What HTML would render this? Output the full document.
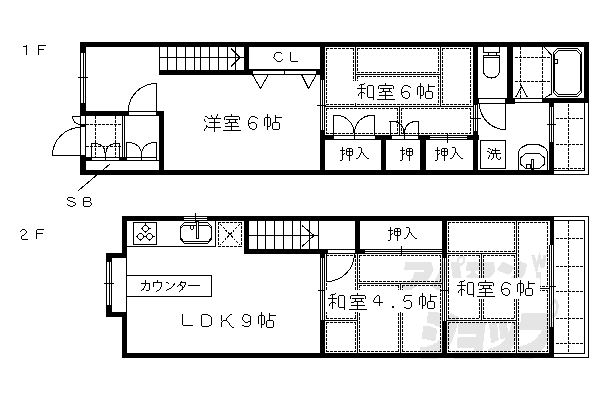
<!DOCTYPE html>
<html><head><meta charset="utf-8"><style>
html,body{margin:0;padding:0;background:#fff;}
svg{display:block;}
</style></head><body>
<svg width="600" height="400" viewBox="0 0 600 400" shape-rendering="crispEdges">
<rect x="23" y="46" width="3" height="1" fill="#000"/>
<rect x="26" y="45" width="1" height="10" fill="#000"/>
<rect x="38" y="45" width="1" height="10" fill="#000"/>
<rect x="38" y="45" width="8" height="1" fill="#000"/>
<rect x="38" y="49" width="6" height="1" fill="#000"/>
<rect x="80" y="42" width="509" height="5" fill="#000"/>
<rect x="80" y="42" width="6" height="11" fill="#000"/>
<rect x="80" y="53" width="1" height="50" fill="#000"/>
<rect x="83" y="53" width="1" height="50" fill="#000"/>
<rect x="85" y="53" width="1" height="50" fill="#000"/>
<rect x="78" y="77" width="10" height="1" fill="#000"/>
<rect x="80" y="103" width="6" height="13" fill="#000"/>
<rect x="80" y="111" width="49" height="5" fill="#000"/>
<rect x="128" y="111" width="29" height="1" fill="#000"/>
<rect x="128" y="115" width="29" height="1" fill="#000"/>
<rect x="128" y="111" width="1" height="5" fill="#000"/>
<rect x="156" y="111" width="1" height="5" fill="#000"/>
<rect x="156" y="111" width="3" height="5" fill="#000"/>
<rect x="159" y="111" width="5" height="64" fill="#000"/>
<rect x="156" y="83" width="1" height="28" fill="#000"/>
<path d="M128.5 110.5 A28 27 0 0 1 156.5 83.5" fill="none" stroke="#000" stroke-width="1" shape-rendering="crispEdges"/>
<rect x="80" y="116" width="1" height="39" fill="#000"/>
<rect x="85" y="116" width="1" height="39" fill="#000"/>
<rect x="80" y="124" width="6" height="3" fill="#000"/>
<rect x="80" y="155" width="6" height="20" fill="#000"/>
<rect x="52" y="155" width="28" height="1" fill="#000"/>
<path d="M52.5 155.5 A28 28 0 0 1 80.5 127.5" fill="none" stroke="#000" stroke-width="1" shape-rendering="crispEdges"/>
<rect x="72" y="116" width="8" height="1" fill="#000"/>
<path d="M72.5 116.5 A8 8 0 0 0 80.5 124.5" fill="none" stroke="#000" stroke-width="1" shape-rendering="crispEdges"/>
<rect x="80" y="170" width="474" height="5" fill="#000"/>
<path d="M86 124h3v1h-3zM90 124h3v1h-3zM94 124h3v1h-3zM98 124h3v1h-3zM102 124h3v1h-3zM106 124h3v1h-3zM110 124h3v1h-3zM114 124h3v1h-3zM118 124h3v1h-3z"/>
<path d="M86 146h3v1h-3zM90 146h3v1h-3zM94 146h3v1h-3zM98 146h3v1h-3zM102 146h3v1h-3zM106 146h3v1h-3zM110 146h3v1h-3zM114 146h3v1h-3zM118 146h3v1h-3z"/>
<path d="M95 116h1v3h-1zM95 120h1v3h-1zM95 124h1v3h-1zM95 128h1v3h-1zM95 132h1v3h-1zM95 136h1v3h-1zM95 140h1v3h-1zM95 144h1v3h-1zM95 148h1v3h-1zM95 152h1v3h-1zM95 156h1v1h-1z"/>
<path d="M115 116h1v3h-1zM115 120h1v3h-1zM115 124h1v3h-1zM115 128h1v3h-1zM115 132h1v3h-1zM115 136h1v3h-1zM115 140h1v3h-1zM115 144h1v3h-1zM115 148h1v3h-1zM115 152h1v3h-1zM115 156h1v1h-1z"/>
<rect x="122" y="116" width="1" height="42" fill="#000"/>
<rect x="124" y="116" width="1" height="42" fill="#000"/>
<rect x="91" y="143" width="1" height="15" fill="#000"/>
<rect x="119" y="143" width="1" height="15" fill="#000"/>
<rect x="91" y="143" width="5" height="1" fill="#000"/>
<rect x="115" y="143" width="5" height="1" fill="#000"/>
<path d="M95.5 143.5 A9.5 9 0 0 1 105 152.5" fill="none" stroke="#000" stroke-width="1" shape-rendering="crispEdges"/>
<path d="M115.5 143.5 A9.5 9 0 0 0 106 152.5" fill="none" stroke="#000" stroke-width="1" shape-rendering="crispEdges"/>
<rect x="105" y="152" width="1" height="9" fill="#000"/>
<rect x="85" y="157" width="7" height="4" fill="#000"/>
<rect x="91" y="157" width="15" height="1" fill="#000"/>
<rect x="91" y="160" width="15" height="1" fill="#000"/>
<rect x="91" y="157" width="1" height="4" fill="#000"/>
<rect x="105" y="157" width="1" height="4" fill="#000"/>
<rect x="105" y="157" width="15" height="1" fill="#000"/>
<rect x="105" y="160" width="15" height="1" fill="#000"/>
<rect x="105" y="157" width="1" height="4" fill="#000"/>
<rect x="119" y="157" width="1" height="4" fill="#000"/>
<rect x="119" y="157" width="8" height="4" fill="#000"/>
<rect x="126" y="142" width="1" height="16" fill="#000"/>
<rect x="156" y="142" width="1" height="16" fill="#000"/>
<rect x="126" y="142" width="3" height="1" fill="#000"/>
<rect x="154" y="142" width="3" height="1" fill="#000"/>
<path d="M128.5 142.5 A13 11.5 0 0 1 141.5 154" fill="none" stroke="#000" stroke-width="1" shape-rendering="crispEdges"/>
<path d="M154.5 142.5 A13 11.5 0 0 0 141.5 154" fill="none" stroke="#000" stroke-width="1" shape-rendering="crispEdges"/>
<rect x="141" y="153" width="1" height="8" fill="#000"/>
<rect x="126" y="157" width="16" height="1" fill="#000"/>
<rect x="126" y="160" width="16" height="1" fill="#000"/>
<rect x="126" y="157" width="1" height="4" fill="#000"/>
<rect x="141" y="157" width="1" height="4" fill="#000"/>
<rect x="141" y="157" width="16" height="1" fill="#000"/>
<rect x="141" y="160" width="16" height="1" fill="#000"/>
<rect x="141" y="157" width="1" height="4" fill="#000"/>
<rect x="156" y="157" width="1" height="4" fill="#000"/>
<rect x="85" y="160" width="74" height="1" fill="#000"/>
<path d="M110.5 163.5 L78.5 190.5" fill="none" stroke="#000" stroke-width="1" shape-rendering="crispEdges"/>
<path d="M68 197h5v1h-5zM67 198h1v1h-1zM73 198h2v1h-2zM67 199h1v1h-1zM68 200h2v1h-2zM70 201h3v1h-3zM73 202h2v1h-2zM75 203h1v1h-1zM67 204h1v1h-1zM75 204h1v1h-1zM68 205h2v1h-2zM73 205h2v1h-2zM70 206h3v1h-3z" fill="#000"/>
<path d="M84 197h6v1h-6zM83 198h1v1h-1zM90 198h1v1h-1zM83 199h1v1h-1zM90 199h1v1h-1zM83 200h1v1h-1zM90 200h1v1h-1zM83 201h7v1h-7zM83 202h1v1h-1zM90 202h1v1h-1zM83 203h1v1h-1zM91 203h1v1h-1zM83 204h1v1h-1zM91 204h1v1h-1zM83 205h1v1h-1zM90 205h1v1h-1zM84 206h6v1h-6z" fill="#000"/>
<rect x="159" y="47" width="1" height="23" fill="#000"/>
<rect x="167" y="47" width="1" height="23" fill="#000"/>
<rect x="176" y="47" width="1" height="23" fill="#000"/>
<rect x="185" y="47" width="1" height="23" fill="#000"/>
<rect x="194" y="47" width="1" height="23" fill="#000"/>
<rect x="200" y="47" width="1" height="23" fill="#000"/>
<rect x="209" y="47" width="1" height="23" fill="#000"/>
<rect x="218" y="47" width="1" height="23" fill="#000"/>
<rect x="227" y="47" width="1" height="23" fill="#000"/>
<rect x="235" y="47" width="1" height="23" fill="#000"/>
<rect x="159" y="57" width="85" height="1" fill="#000"/>
<rect x="159" y="70" width="90" height="5" fill="#000"/>
<rect x="244" y="42" width="5" height="33" fill="#000"/>
<path d="M231 48.5 L240 57.5 L231 66.5" fill="none" stroke="#000" stroke-width="1" shape-rendering="crispEdges"/>
<rect x="249" y="69" width="71" height="1" fill="#000"/>
<rect x="244" y="70" width="9" height="5" fill="#000"/>
<rect x="252" y="70" width="33" height="1" fill="#000"/>
<rect x="252" y="74" width="33" height="1" fill="#000"/>
<rect x="252" y="70" width="1" height="5" fill="#000"/>
<rect x="284" y="70" width="1" height="5" fill="#000"/>
<rect x="284" y="70" width="33" height="1" fill="#000"/>
<rect x="284" y="74" width="33" height="1" fill="#000"/>
<rect x="284" y="70" width="1" height="5" fill="#000"/>
<rect x="316" y="70" width="1" height="5" fill="#000"/>
<rect x="316" y="70" width="9" height="5" fill="#000"/>
<path d="M252.5 74.5 L260.5 88.5 L268.5 74.5" fill="none" stroke="#000" stroke-width="1" shape-rendering="crispEdges"/>
<path d="M301.5 74.5 L308.5 88.5 L316.5 74.5" fill="none" stroke="#000" stroke-width="1" shape-rendering="crispEdges"/>
<path d="M276 52h5v1h-5zM275 53h1v1h-1zM281 53h1v1h-1zM274 54h1v1h-1zM274 55h1v1h-1zM274 56h1v1h-1zM273 57h1v1h-1zM274 58h1v1h-1zM275 59h1v1h-1zM282 59h1v1h-1zM276 60h1v1h-1zM281 60h1v1h-1zM277 61h4v1h-4z" fill="#000"/>
<path d="M290 52h1v1h-1zM290 53h1v1h-1zM290 54h1v1h-1zM290 55h1v1h-1zM290 56h1v1h-1zM290 57h1v1h-1zM290 58h1v1h-1zM290 59h1v1h-1zM290 60h1v1h-1zM291 61h7v1h-7z" fill="#000"/>
<rect x="320" y="42" width="5" height="38" fill="#000"/>
<rect x="320" y="80" width="1" height="50" fill="#000"/>
<rect x="322" y="80" width="1" height="50" fill="#000"/>
<rect x="324" y="80" width="1" height="50" fill="#000"/>
<rect x="317" y="105" width="9" height="1" fill="#000"/>
<rect x="320" y="130" width="5" height="45" fill="#000"/>
<path d="M217 114h1v1h-1zM211 115h1v1h-1zM217 115h1v1h-1zM205 116h2v1h-2zM211 116h1v1h-1zM216 116h1v1h-1zM207 117h1v1h-1zM212 117h1v1h-1zM216 117h1v1h-1zM208 118h13v1h-13zM204 119h1v1h-1zM214 119h1v1h-1zM204 120h1v1h-1zM214 120h1v1h-1zM205 121h1v1h-1zM214 121h1v1h-1zM209 122h11v1h-11zM214 123h1v1h-1zM214 124h1v1h-1zM206 125h1v1h-1zM214 125h1v1h-1zM206 126h2v1h-2zM214 126h1v1h-1zM206 127h1v1h-1zM208 127h13v1h-13zM205 128h1v1h-1zM214 128h1v1h-1zM204 129h1v1h-1zM214 129h1v1h-1zM204 130h1v1h-1zM214 130h1v1h-1zM214 131h1v1h-1z" fill="#000"/>
<path d="M231 114h1v1h-1zM231 115h1v1h-1zM225 116h14v1h-14zM224 117h1v1h-1zM239 117h1v1h-1zM224 118h1v1h-1zM239 118h1v1h-1zM224 119h1v1h-1zM226 119h12v1h-12zM239 119h1v1h-1zM229 120h1v1h-1zM235 120h1v1h-1zM229 121h1v1h-1zM235 121h1v1h-1zM228 122h9v1h-9zM225 123h3v1h-3zM231 123h1v1h-1zM237 123h1v1h-1zM231 124h1v1h-1zM231 125h1v1h-1zM225 126h14v1h-14zM231 127h1v1h-1zM231 128h1v1h-1zM231 129h1v1h-1zM223 130h18v1h-18z" fill="#000"/>
<path d="M251 116h4v1h-4zM250 117h1v1h-1zM255 117h2v1h-2zM249 118h1v1h-1zM257 118h1v1h-1zM249 119h1v1h-1zM248 120h1v1h-1zM248 121h1v1h-1zM248 122h1v1h-1zM251 122h4v1h-4zM248 123h3v1h-3zM255 123h1v1h-1zM248 124h1v1h-1zM256 124h1v1h-1zM248 125h1v1h-1zM256 125h1v1h-1zM249 126h1v1h-1zM256 126h1v1h-1zM249 127h1v1h-1zM256 127h1v1h-1zM250 128h2v1h-2zM255 128h1v1h-1zM252 129h3v1h-3z" fill="#000"/>
<path d="M267 114h1v1h-1zM267 115h1v1h-1zM275 115h1v1h-1zM267 116h1v1h-1zM275 116h1v1h-1zM265 117h5v1h-5zM275 117h7v1h-7zM264 118h1v1h-1zM267 118h1v1h-1zM270 118h1v1h-1zM275 118h1v1h-1zM264 119h1v1h-1zM267 119h1v1h-1zM270 119h1v1h-1zM275 119h1v1h-1zM264 120h1v1h-1zM267 120h1v1h-1zM270 120h1v1h-1zM275 120h1v1h-1zM264 121h1v1h-1zM267 121h1v1h-1zM270 121h1v1h-1zM275 121h1v1h-1zM264 122h1v1h-1zM267 122h1v1h-1zM270 122h1v1h-1zM273 122h6v1h-6zM264 123h1v1h-1zM267 123h1v1h-1zM270 123h1v1h-1zM272 123h1v1h-1zM279 123h1v1h-1zM264 124h1v1h-1zM267 124h1v1h-1zM270 124h1v1h-1zM272 124h1v1h-1zM279 124h1v1h-1zM264 125h1v1h-1zM267 125h1v1h-1zM270 125h1v1h-1zM272 125h1v1h-1zM279 125h1v1h-1zM267 126h3v1h-3zM272 126h1v1h-1zM279 126h1v1h-1zM267 127h1v1h-1zM272 127h1v1h-1zM279 127h1v1h-1zM267 128h1v1h-1zM272 128h1v1h-1zM279 128h1v1h-1zM267 129h1v1h-1zM273 129h6v1h-6z" fill="#000"/>
<rect x="355" y="47" width="1" height="60" fill="#000"/>
<rect x="356" y="74" width="84" height="1" fill="#000"/>
<rect x="440" y="47" width="1" height="60" fill="#000"/>
<rect x="325" y="106" width="148" height="1" fill="#000"/>
<rect x="399" y="107" width="1" height="28" fill="#000"/>
<path d="M326 48h3v1h-3zM330 48h3v1h-3zM334 48h3v1h-3zM338 48h3v1h-3zM342 48h3v1h-3zM346 48h3v1h-3zM350 48h3v1h-3z"/>
<path d="M326 104h3v1h-3zM330 104h3v1h-3zM334 104h3v1h-3zM338 104h3v1h-3zM342 104h3v1h-3zM346 104h3v1h-3zM350 104h3v1h-3z"/>
<path d="M326 48h1v3h-1zM326 52h1v3h-1zM326 56h1v3h-1zM326 60h1v3h-1zM326 64h1v3h-1zM326 68h1v3h-1zM326 72h1v3h-1zM326 76h1v3h-1zM326 80h1v3h-1zM326 84h1v3h-1zM326 88h1v3h-1zM326 92h1v3h-1zM326 96h1v3h-1zM326 100h1v3h-1zM326 104h1v1h-1z"/>
<path d="M353 48h1v3h-1zM353 52h1v3h-1zM353 56h1v3h-1zM353 60h1v3h-1zM353 64h1v3h-1zM353 68h1v3h-1zM353 72h1v3h-1zM353 76h1v3h-1zM353 80h1v3h-1zM353 84h1v3h-1zM353 88h1v3h-1zM353 92h1v3h-1zM353 96h1v3h-1zM353 100h1v3h-1zM353 104h1v1h-1z"/>
<path d="M357 48h3v1h-3zM361 48h3v1h-3zM365 48h3v1h-3zM369 48h3v1h-3zM373 48h3v1h-3zM377 48h3v1h-3zM381 48h3v1h-3zM385 48h3v1h-3zM389 48h3v1h-3zM393 48h3v1h-3zM397 48h3v1h-3zM401 48h3v1h-3zM405 48h3v1h-3zM409 48h3v1h-3zM413 48h3v1h-3zM417 48h3v1h-3zM421 48h3v1h-3zM425 48h3v1h-3zM429 48h3v1h-3zM433 48h3v1h-3zM437 48h2v1h-2z"/>
<path d="M357 72h3v1h-3zM361 72h3v1h-3zM365 72h3v1h-3zM369 72h3v1h-3zM373 72h3v1h-3zM377 72h3v1h-3zM381 72h3v1h-3zM385 72h3v1h-3zM389 72h3v1h-3zM393 72h3v1h-3zM397 72h3v1h-3zM401 72h3v1h-3zM405 72h3v1h-3zM409 72h3v1h-3zM413 72h3v1h-3zM417 72h3v1h-3zM421 72h3v1h-3zM425 72h3v1h-3zM429 72h3v1h-3zM433 72h3v1h-3zM437 72h2v1h-2z"/>
<path d="M357 48h1v3h-1zM357 52h1v3h-1zM357 56h1v3h-1zM357 60h1v3h-1zM357 64h1v3h-1zM357 68h1v3h-1zM357 72h1v1h-1z"/>
<path d="M438 48h1v3h-1zM438 52h1v3h-1zM438 56h1v3h-1zM438 60h1v3h-1zM438 64h1v3h-1zM438 68h1v3h-1zM438 72h1v1h-1z"/>
<path d="M357 76h3v1h-3zM361 76h3v1h-3zM365 76h3v1h-3zM369 76h3v1h-3zM373 76h3v1h-3zM377 76h3v1h-3zM381 76h3v1h-3zM385 76h3v1h-3zM389 76h3v1h-3zM393 76h3v1h-3zM397 76h3v1h-3zM401 76h3v1h-3zM405 76h3v1h-3zM409 76h3v1h-3zM413 76h3v1h-3zM417 76h3v1h-3zM421 76h3v1h-3zM425 76h3v1h-3zM429 76h3v1h-3zM433 76h3v1h-3zM437 76h2v1h-2z"/>
<path d="M357 104h3v1h-3zM361 104h3v1h-3zM365 104h3v1h-3zM369 104h3v1h-3zM373 104h3v1h-3zM377 104h3v1h-3zM381 104h3v1h-3zM385 104h3v1h-3zM389 104h3v1h-3zM393 104h3v1h-3zM397 104h3v1h-3zM401 104h3v1h-3zM405 104h3v1h-3zM409 104h3v1h-3zM413 104h3v1h-3zM417 104h3v1h-3zM421 104h3v1h-3zM425 104h3v1h-3zM429 104h3v1h-3zM433 104h3v1h-3zM437 104h2v1h-2z"/>
<path d="M357 76h1v3h-1zM357 80h1v3h-1zM357 84h1v3h-1zM357 88h1v3h-1zM357 92h1v3h-1zM357 96h1v3h-1zM357 100h1v3h-1zM357 104h1v1h-1z"/>
<path d="M438 76h1v3h-1zM438 80h1v3h-1zM438 84h1v3h-1zM438 88h1v3h-1zM438 92h1v3h-1zM438 96h1v3h-1zM438 100h1v3h-1zM438 104h1v1h-1z"/>
<path d="M442 48h3v1h-3zM446 48h3v1h-3zM450 48h3v1h-3zM454 48h3v1h-3zM458 48h3v1h-3zM462 48h3v1h-3zM466 48h3v1h-3zM470 48h1v1h-1z"/>
<path d="M442 104h3v1h-3zM446 104h3v1h-3zM450 104h3v1h-3zM454 104h3v1h-3zM458 104h3v1h-3zM462 104h3v1h-3zM466 104h3v1h-3zM470 104h1v1h-1z"/>
<path d="M442 48h1v3h-1zM442 52h1v3h-1zM442 56h1v3h-1zM442 60h1v3h-1zM442 64h1v3h-1zM442 68h1v3h-1zM442 72h1v3h-1zM442 76h1v3h-1zM442 80h1v3h-1zM442 84h1v3h-1zM442 88h1v3h-1zM442 92h1v3h-1zM442 96h1v3h-1zM442 100h1v3h-1zM442 104h1v1h-1z"/>
<path d="M470 48h1v3h-1zM470 52h1v3h-1zM470 56h1v3h-1zM470 60h1v3h-1zM470 64h1v3h-1zM470 68h1v3h-1zM470 72h1v3h-1zM470 76h1v3h-1zM470 80h1v3h-1zM470 84h1v3h-1zM470 88h1v3h-1zM470 92h1v3h-1zM470 96h1v3h-1zM470 100h1v3h-1zM470 104h1v1h-1z"/>
<path d="M326 108h3v1h-3zM330 108h3v1h-3zM334 108h3v1h-3zM338 108h3v1h-3zM342 108h3v1h-3zM346 108h3v1h-3zM350 108h3v1h-3zM354 108h3v1h-3zM358 108h3v1h-3zM362 108h3v1h-3zM366 108h3v1h-3zM370 108h3v1h-3zM374 108h3v1h-3zM378 108h3v1h-3zM382 108h3v1h-3zM386 108h3v1h-3zM390 108h3v1h-3zM394 108h3v1h-3z"/>
<path d="M326 133h3v1h-3zM330 133h3v1h-3zM334 133h3v1h-3zM338 133h3v1h-3zM342 133h3v1h-3zM346 133h3v1h-3zM350 133h3v1h-3zM354 133h3v1h-3zM358 133h3v1h-3zM362 133h3v1h-3zM366 133h3v1h-3zM370 133h3v1h-3zM374 133h3v1h-3zM378 133h3v1h-3zM382 133h3v1h-3zM386 133h3v1h-3zM390 133h3v1h-3zM394 133h3v1h-3z"/>
<path d="M326 108h1v3h-1zM326 112h1v3h-1zM326 116h1v3h-1zM326 120h1v3h-1zM326 124h1v3h-1zM326 128h1v3h-1zM326 132h1v2h-1z"/>
<path d="M397 108h1v3h-1zM397 112h1v3h-1zM397 116h1v3h-1zM397 120h1v3h-1zM397 124h1v3h-1zM397 128h1v3h-1zM397 132h1v2h-1z"/>
<path d="M401 108h3v1h-3zM405 108h3v1h-3zM409 108h3v1h-3zM413 108h3v1h-3zM417 108h3v1h-3zM421 108h3v1h-3zM425 108h3v1h-3zM429 108h3v1h-3zM433 108h3v1h-3zM437 108h3v1h-3zM441 108h3v1h-3zM445 108h3v1h-3zM449 108h3v1h-3zM453 108h3v1h-3zM457 108h3v1h-3zM461 108h3v1h-3zM465 108h3v1h-3zM469 108h2v1h-2z"/>
<path d="M401 133h3v1h-3zM405 133h3v1h-3zM409 133h3v1h-3zM413 133h3v1h-3zM417 133h3v1h-3zM421 133h3v1h-3zM425 133h3v1h-3zM429 133h3v1h-3zM433 133h3v1h-3zM437 133h3v1h-3zM441 133h3v1h-3zM445 133h3v1h-3zM449 133h3v1h-3zM453 133h3v1h-3zM457 133h3v1h-3zM461 133h3v1h-3zM465 133h3v1h-3zM469 133h2v1h-2z"/>
<path d="M401 108h1v3h-1zM401 112h1v3h-1zM401 116h1v3h-1zM401 120h1v3h-1zM401 124h1v3h-1zM401 128h1v3h-1zM401 132h1v2h-1z"/>
<path d="M470 108h1v3h-1zM470 112h1v3h-1zM470 116h1v3h-1zM470 120h1v3h-1zM470 124h1v3h-1zM470 128h1v3h-1zM470 132h1v2h-1z"/>
<rect x="330" y="81" width="107" height="22" fill="#fff"/>
<path d="M364 83h1v1h-1zM360 84h4v1h-4zM359 85h1v1h-1zM361 85h1v1h-1zM368 85h5v1h-5zM361 86h1v1h-1zM367 86h1v1h-1zM373 86h1v1h-1zM361 87h1v1h-1zM367 87h1v1h-1zM373 87h1v1h-1zM357 88h9v1h-9zM367 88h1v1h-1zM373 88h1v1h-1zM361 89h1v1h-1zM367 89h1v1h-1zM373 89h1v1h-1zM361 90h1v1h-1zM367 90h1v1h-1zM373 90h1v1h-1zM361 91h1v1h-1zM367 91h1v1h-1zM373 91h1v1h-1zM360 92h4v1h-4zM367 92h1v1h-1zM373 92h1v1h-1zM359 93h1v1h-1zM361 93h1v1h-1zM364 93h1v1h-1zM367 93h1v1h-1zM373 93h1v1h-1zM358 94h1v1h-1zM361 94h1v1h-1zM367 94h1v1h-1zM373 94h1v1h-1zM358 95h1v1h-1zM361 95h1v1h-1zM367 95h1v1h-1zM373 95h1v1h-1zM361 96h1v1h-1zM367 96h1v1h-1zM373 96h1v1h-1zM361 97h1v1h-1zM368 97h6v1h-6zM361 98h1v1h-1zM373 98h1v1h-1zM373 99h1v1h-1z" fill="#000"/>
<path d="M385 83h1v1h-1zM385 84h1v1h-1zM379 85h14v1h-14zM378 86h1v1h-1zM393 86h1v1h-1zM378 87h1v1h-1zM393 87h1v1h-1zM378 88h1v1h-1zM380 88h12v1h-12zM393 88h1v1h-1zM383 89h1v1h-1zM389 89h1v1h-1zM383 90h1v1h-1zM389 90h1v1h-1zM382 91h9v1h-9zM379 92h3v1h-3zM385 92h1v1h-1zM391 92h1v1h-1zM385 93h1v1h-1zM385 94h1v1h-1zM379 95h14v1h-14zM385 96h1v1h-1zM385 97h1v1h-1zM385 98h1v1h-1zM377 99h18v1h-18z" fill="#000"/>
<path d="M404 85h4v1h-4zM403 86h1v1h-1zM408 86h2v1h-2zM402 87h1v1h-1zM410 87h1v1h-1zM402 88h1v1h-1zM401 89h1v1h-1zM401 90h1v1h-1zM401 91h1v1h-1zM404 91h4v1h-4zM401 92h3v1h-3zM408 92h1v1h-1zM401 93h1v1h-1zM409 93h1v1h-1zM401 94h1v1h-1zM409 94h1v1h-1zM402 95h1v1h-1zM409 95h1v1h-1zM402 96h1v1h-1zM409 96h1v1h-1zM403 97h2v1h-2zM408 97h1v1h-1zM405 98h3v1h-3z" fill="#000"/>
<path d="M420 83h1v1h-1zM420 84h1v1h-1zM428 84h1v1h-1zM420 85h1v1h-1zM428 85h1v1h-1zM418 86h5v1h-5zM428 86h7v1h-7zM417 87h1v1h-1zM420 87h1v1h-1zM423 87h1v1h-1zM428 87h1v1h-1zM417 88h1v1h-1zM420 88h1v1h-1zM423 88h1v1h-1zM428 88h1v1h-1zM417 89h1v1h-1zM420 89h1v1h-1zM423 89h1v1h-1zM428 89h1v1h-1zM417 90h1v1h-1zM420 90h1v1h-1zM423 90h1v1h-1zM428 90h1v1h-1zM417 91h1v1h-1zM420 91h1v1h-1zM423 91h1v1h-1zM426 91h6v1h-6zM417 92h1v1h-1zM420 92h1v1h-1zM423 92h1v1h-1zM425 92h1v1h-1zM432 92h1v1h-1zM417 93h1v1h-1zM420 93h1v1h-1zM423 93h1v1h-1zM425 93h1v1h-1zM432 93h1v1h-1zM417 94h1v1h-1zM420 94h1v1h-1zM423 94h1v1h-1zM425 94h1v1h-1zM432 94h1v1h-1zM420 95h3v1h-3zM425 95h1v1h-1zM432 95h1v1h-1zM420 96h1v1h-1zM425 96h1v1h-1zM432 96h1v1h-1zM420 97h1v1h-1zM425 97h1v1h-1zM432 97h1v1h-1zM420 98h1v1h-1zM426 98h6v1h-6z" fill="#000"/>
<rect x="473" y="42" width="5" height="63" fill="#000"/>
<rect x="473" y="105" width="1" height="26" fill="#000"/>
<rect x="475" y="105" width="1" height="26" fill="#000"/>
<rect x="477" y="105" width="1" height="26" fill="#000"/>
<rect x="470" y="118" width="11" height="1" fill="#000"/>
<rect x="473" y="131" width="5" height="44" fill="#000"/>
<rect x="320" y="135" width="159" height="5" fill="#000"/>
<rect x="333" y="135" width="22" height="5" fill="#fff"/>
<rect x="333" y="135" width="22" height="1" fill="#000"/>
<rect x="333" y="139" width="22" height="1" fill="#000"/>
<rect x="333" y="135" width="1" height="5" fill="#000"/>
<rect x="354" y="135" width="1" height="5" fill="#000"/>
<rect x="354" y="135" width="22" height="5" fill="#fff"/>
<rect x="354" y="135" width="22" height="1" fill="#000"/>
<rect x="354" y="139" width="22" height="1" fill="#000"/>
<rect x="354" y="135" width="1" height="5" fill="#000"/>
<rect x="375" y="135" width="1" height="5" fill="#000"/>
<rect x="391" y="135" width="14" height="5" fill="#fff"/>
<rect x="391" y="135" width="14" height="1" fill="#000"/>
<rect x="391" y="139" width="14" height="1" fill="#000"/>
<rect x="391" y="135" width="1" height="5" fill="#000"/>
<rect x="404" y="135" width="1" height="5" fill="#000"/>
<rect x="404" y="135" width="15" height="5" fill="#fff"/>
<rect x="404" y="135" width="15" height="1" fill="#000"/>
<rect x="404" y="139" width="15" height="1" fill="#000"/>
<rect x="404" y="135" width="1" height="5" fill="#000"/>
<rect x="418" y="135" width="1" height="5" fill="#000"/>
<rect x="430" y="135" width="37" height="5" fill="#fff"/>
<rect x="430" y="135" width="37" height="1" fill="#000"/>
<rect x="430" y="137" width="37" height="1" fill="#000"/>
<rect x="430" y="139" width="37" height="1" fill="#000"/>
<rect x="447" y="133" width="1" height="10" fill="#000"/>
<rect x="381" y="140" width="5" height="31" fill="#000"/>
<rect x="420" y="140" width="6" height="31" fill="#000"/>
<rect x="333" y="115" width="1" height="20" fill="#000"/>
<rect x="374" y="115" width="1" height="20" fill="#000"/>
<rect x="333" y="115" width="4" height="1" fill="#000"/>
<rect x="371" y="115" width="4" height="1" fill="#000"/>
<path d="M336.5 115.5 A17.5 17.5 0 0 1 354 133" fill="none" stroke="#000" stroke-width="1" shape-rendering="crispEdges"/>
<path d="M371.5 115.5 A17 17.5 0 0 0 354.5 133" fill="none" stroke="#000" stroke-width="1" shape-rendering="crispEdges"/>
<rect x="354" y="131" width="1" height="5" fill="#000"/>
<rect x="390" y="121" width="1" height="14" fill="#000"/>
<rect x="418" y="121" width="1" height="14" fill="#000"/>
<rect x="389" y="121" width="5" height="1" fill="#000"/>
<rect x="415" y="121" width="4" height="1" fill="#000"/>
<path d="M393.5 121.5 A10.5 11 0 0 1 404 132.5" fill="none" stroke="#000" stroke-width="1" shape-rendering="crispEdges"/>
<path d="M415.5 121.5 A11 11 0 0 0 404.5 132.5" fill="none" stroke="#000" stroke-width="1" shape-rendering="crispEdges"/>
<rect x="404" y="131" width="1" height="5" fill="#000"/>
<path d="M342 147h1v1h-1zM342 148h1v1h-1zM347 148h5v1h-5zM342 149h1v1h-1zM346 149h1v1h-1zM349 149h1v1h-1zM352 149h1v1h-1zM340 150h5v1h-5zM346 150h1v1h-1zM349 150h1v1h-1zM352 150h1v1h-1zM342 151h1v1h-1zM346 151h7v1h-7zM342 152h1v1h-1zM346 152h1v1h-1zM349 152h1v1h-1zM352 152h1v1h-1zM342 153h1v1h-1zM344 153h1v1h-1zM346 153h1v1h-1zM349 153h1v1h-1zM352 153h1v1h-1zM342 154h2v1h-2zM346 154h1v1h-1zM349 154h1v1h-1zM352 154h1v1h-1zM342 155h1v1h-1zM347 155h5v1h-5zM342 156h1v1h-1zM349 156h1v1h-1zM342 157h1v1h-1zM349 157h1v1h-1zM342 158h1v1h-1zM349 158h1v1h-1zM342 159h1v1h-1zM349 159h1v1h-1zM340 160h2v1h-2zM349 160h1v1h-1z" fill="#000"/>
<path d="M358 147h3v1h-3zM361 148h1v1h-1zM361 149h1v1h-1zM361 150h1v1h-1zM361 151h1v1h-1zM361 152h2v1h-2zM360 153h1v1h-1zM363 153h1v1h-1zM360 154h1v1h-1zM363 154h1v1h-1zM359 155h1v1h-1zM364 155h1v1h-1zM359 156h1v1h-1zM365 156h1v1h-1zM358 157h1v1h-1zM366 157h1v1h-1zM356 158h2v1h-2zM367 158h2v1h-2z" fill="#000"/>
<path d="M402 147h1v1h-1zM402 148h1v1h-1zM407 148h5v1h-5zM402 149h1v1h-1zM406 149h1v1h-1zM409 149h1v1h-1zM412 149h1v1h-1zM400 150h5v1h-5zM406 150h1v1h-1zM409 150h1v1h-1zM412 150h1v1h-1zM402 151h1v1h-1zM406 151h7v1h-7zM402 152h1v1h-1zM406 152h1v1h-1zM409 152h1v1h-1zM412 152h1v1h-1zM402 153h1v1h-1zM404 153h1v1h-1zM406 153h1v1h-1zM409 153h1v1h-1zM412 153h1v1h-1zM402 154h2v1h-2zM406 154h1v1h-1zM409 154h1v1h-1zM412 154h1v1h-1zM402 155h1v1h-1zM407 155h5v1h-5zM402 156h1v1h-1zM409 156h1v1h-1zM402 157h1v1h-1zM409 157h1v1h-1zM402 158h1v1h-1zM409 158h1v1h-1zM402 159h1v1h-1zM409 159h1v1h-1zM400 160h2v1h-2zM409 160h1v1h-1z" fill="#000"/>
<path d="M437 147h1v1h-1zM437 148h1v1h-1zM442 148h5v1h-5zM437 149h1v1h-1zM441 149h1v1h-1zM444 149h1v1h-1zM447 149h1v1h-1zM435 150h5v1h-5zM441 150h1v1h-1zM444 150h1v1h-1zM447 150h1v1h-1zM437 151h1v1h-1zM441 151h7v1h-7zM437 152h1v1h-1zM441 152h1v1h-1zM444 152h1v1h-1zM447 152h1v1h-1zM437 153h1v1h-1zM439 153h1v1h-1zM441 153h1v1h-1zM444 153h1v1h-1zM447 153h1v1h-1zM437 154h2v1h-2zM441 154h1v1h-1zM444 154h1v1h-1zM447 154h1v1h-1zM437 155h1v1h-1zM442 155h5v1h-5zM437 156h1v1h-1zM444 156h1v1h-1zM437 157h1v1h-1zM444 157h1v1h-1zM437 158h1v1h-1zM444 158h1v1h-1zM437 159h1v1h-1zM444 159h1v1h-1zM435 160h2v1h-2zM444 160h1v1h-1z" fill="#000"/>
<path d="M452 147h3v1h-3zM455 148h1v1h-1zM455 149h1v1h-1zM455 150h1v1h-1zM455 151h1v1h-1zM455 152h2v1h-2zM454 153h1v1h-1zM457 153h1v1h-1zM454 154h1v1h-1zM457 154h1v1h-1zM453 155h1v1h-1zM458 155h1v1h-1zM453 156h1v1h-1zM459 156h1v1h-1zM452 157h1v1h-1zM460 157h1v1h-1zM450 158h2v1h-2zM461 158h2v1h-2z" fill="#000"/>
<rect x="507" y="42" width="6" height="62" fill="#000"/>
<rect x="483" y="46" width="17" height="1" fill="#000"/>
<rect x="483" y="52" width="17" height="1" fill="#000"/>
<rect x="483" y="46" width="1" height="7" fill="#000"/>
<rect x="499" y="46" width="1" height="7" fill="#000"/>
<rect x="488" y="52" width="9" height="1" fill="#000"/>
<rect x="488" y="55" width="9" height="1" fill="#000"/>
<rect x="488" y="52" width="1" height="4" fill="#000"/>
<rect x="496" y="52" width="1" height="4" fill="#000"/>
<rect x="483" y="55" width="17" height="1" fill="#000"/>
<rect x="483" y="57" width="17" height="1" fill="#000"/>
<path d="M483.5 55.5 V71 A8 7 0 0 0 499.5 71 V55.5" fill="none" stroke="#000" stroke-width="1.1" shape-rendering="crispEdges"/>
<rect x="473" y="98" width="5" height="6" fill="#000"/>
<rect x="478" y="98" width="28" height="1" fill="#000"/>
<rect x="478" y="103" width="28" height="1" fill="#000"/>
<rect x="478" y="98" width="1" height="6" fill="#000"/>
<rect x="505" y="98" width="1" height="6" fill="#000"/>
<rect x="505" y="98" width="10" height="6" fill="#000"/>
<rect x="505" y="104" width="1" height="26" fill="#000"/>
<path d="M479.5 103.5 A26 26 0 0 0 505.5 129.5" fill="none" stroke="#000" stroke-width="1" shape-rendering="crispEdges"/>
<rect x="584" y="42" width="5" height="61" fill="#000"/>
<rect x="512" y="98" width="77" height="5" fill="#000"/>
<rect x="514" y="98" width="29" height="5" fill="#fff"/>
<rect x="514" y="98" width="29" height="1" fill="#000"/>
<rect x="514" y="102" width="29" height="1" fill="#000"/>
<rect x="514" y="98" width="1" height="5" fill="#000"/>
<rect x="542" y="98" width="1" height="5" fill="#000"/>
<path d="M520 47h1v3h-1zM520 51h1v3h-1zM520 55h1v3h-1zM520 59h1v3h-1zM520 63h1v3h-1zM520 67h1v3h-1zM520 71h1v3h-1zM520 75h1v3h-1zM520 79h1v3h-1zM520 83h1v3h-1zM520 87h1v3h-1zM520 91h1v3h-1zM520 95h1v3h-1z"/>
<path d="M542 47h1v3h-1zM542 51h1v3h-1zM542 55h1v3h-1zM542 59h1v3h-1zM542 63h1v3h-1zM542 67h1v3h-1zM542 71h1v3h-1zM542 75h1v3h-1zM542 79h1v3h-1zM542 83h1v3h-1zM542 87h1v3h-1zM542 91h1v3h-1zM542 95h1v3h-1z"/>
<path d="M515 57h3v1h-3zM519 57h3v1h-3zM523 57h3v1h-3zM527 57h3v1h-3zM531 57h3v1h-3zM535 57h3v1h-3zM539 57h3v1h-3zM543 57h3v1h-3zM547 57h3v1h-3z"/>
<path d="M515 81h3v1h-3zM519 81h3v1h-3zM523 81h3v1h-3zM527 81h3v1h-3zM531 81h3v1h-3zM535 81h3v1h-3zM539 81h3v1h-3zM543 81h3v1h-3zM547 81h3v1h-3z"/>
<path d="M557.5 48.5 H577.5 L581.5 52.5 V92.5 L577.5 96.5 H557.5 L553.5 92.5 V52.5 Z" fill="none" stroke="#000" stroke-width="1" shape-rendering="crispEdges"/>
<path d="M554.5 54.5 L558.5 50.5 H576.5 L580.5 54.5 V90.5 L576.5 94.5 H558.5 L554.5 90.5 Z" fill="none" stroke="#000" stroke-width="1" shape-rendering="crispEdges"/>
<path d="M543.5 46.5 L551.5 55 V94 L545 97.5" fill="none" stroke="#000" stroke-width="1" shape-rendering="crispEdges"/>
<path d="M554.5 59.5 H556 A2 2 0 0 1 556 63.5 H554.5" fill="none" stroke="#000" stroke-width="1" shape-rendering="crispEdges"/>
<path d="M515.5 97.5 L521.5 86.5 L527.5 97.5" fill="none" stroke="#000" stroke-width="1" shape-rendering="crispEdges"/>
<rect x="549" y="103" width="5" height="4" fill="#000"/>
<rect x="549" y="107" width="1" height="35" fill="#000"/>
<rect x="551" y="107" width="1" height="35" fill="#000"/>
<rect x="553" y="107" width="1" height="35" fill="#000"/>
<rect x="547" y="124" width="9" height="1" fill="#000"/>
<rect x="549" y="142" width="5" height="33" fill="#000"/>
<rect x="480" y="140" width="26" height="1" fill="#000"/>
<rect x="480" y="168" width="26" height="1" fill="#000"/>
<rect x="480" y="140" width="1" height="29" fill="#000"/>
<rect x="505" y="140" width="1" height="29" fill="#000"/>
<path d="M488 148h2v1h-2zM495 148h1v1h-1zM490 149h1v1h-1zM492 149h1v1h-1zM495 149h1v1h-1zM492 150h8v1h-8zM487 151h2v1h-2zM491 151h1v1h-1zM495 151h1v1h-1zM489 152h1v1h-1zM491 152h1v1h-1zM495 152h1v1h-1zM490 153h11v1h-11zM493 154h1v1h-1zM496 154h1v1h-1zM489 155h1v1h-1zM493 155h1v1h-1zM496 155h1v1h-1zM489 156h1v1h-1zM493 156h1v1h-1zM496 156h1v1h-1zM488 157h1v1h-1zM493 157h1v1h-1zM496 157h1v1h-1zM500 157h1v1h-1zM488 158h1v1h-1zM492 158h1v1h-1zM497 158h1v1h-1zM500 158h1v1h-1zM491 159h1v1h-1zM498 159h2v1h-2z" fill="#000"/>
<path d="M518.5 169.5 V153.5 A14.5 9.5 0 0 1 547.5 153.5 V169.5" fill="none" stroke="#000" stroke-width="1" shape-rendering="crispEdges"/>
<path d="M525.5 153.5 H539.5 L544.5 158 V164 L539.5 168.5 H525.5 L520.5 164 V158 Z" fill="none" stroke="#000" stroke-width="1" shape-rendering="crispEdges"/>
<rect x="531" y="159" width="3" height="1" fill="#000"/>
<rect x="531" y="169" width="3" height="1" fill="#000"/>
<rect x="531" y="159" width="1" height="11" fill="#000"/>
<rect x="533" y="159" width="1" height="11" fill="#000"/>
<path d="M526.5 168.5 V166 A2 2 0 0 1 530.5 166 V168.5" fill="none" stroke="#000" stroke-width="1" shape-rendering="crispEdges"/>
<rect x="584" y="103" width="1" height="68" fill="#000"/>
<rect x="588" y="103" width="1" height="72" fill="#000"/>
<rect x="554" y="170" width="31" height="1" fill="#000"/>
<rect x="554" y="174" width="35" height="1" fill="#000"/>
<path d="M556 118h3v1h-3zM560 118h3v1h-3zM564 118h3v1h-3zM568 118h3v1h-3zM572 118h3v1h-3zM576 118h3v1h-3zM580 118h3v1h-3z"/>
<path d="M556 144h3v1h-3zM560 144h3v1h-3zM564 144h3v1h-3zM568 144h3v1h-3zM572 144h3v1h-3zM576 144h3v1h-3zM580 144h3v1h-3z"/>
<path d="M554 168h3v1h-3zM558 168h3v1h-3zM562 168h3v1h-3zM566 168h3v1h-3zM570 168h3v1h-3zM574 168h3v1h-3zM578 168h3v1h-3zM582 168h2v1h-2z"/>
<path d="M568 104h1v3h-1zM568 108h1v3h-1zM568 112h1v3h-1zM568 116h1v3h-1zM568 120h1v3h-1zM568 124h1v3h-1zM568 128h1v3h-1zM568 132h1v3h-1zM568 136h1v3h-1zM568 140h1v3h-1zM568 144h1v3h-1zM568 148h1v3h-1zM568 152h1v3h-1zM568 156h1v3h-1zM568 160h1v3h-1zM568 164h1v3h-1zM568 168h1v3h-1z"/>
<path d="M461 255h1v1h-1zM459 256h5v1h-5zM458 257h7v1h-7zM458 258h2v1h-2zM463 258h2v1h-2zM457 259h2v1h-2zM463 259h2v1h-2zM457 260h2v1h-2zM463 260h2v1h-2zM457 261h2v1h-2zM463 261h2v1h-2zM520 261h1v1h-1zM405 262h26v1h-26zM441 262h8v1h-8zM451 262h8v1h-8zM462 262h3v1h-3zM467 262h27v1h-27zM502 262h3v1h-3zM519 262h4v1h-4zM405 263h27v1h-27zM441 263h8v1h-8zM451 263h13v1h-13zM467 263h27v1h-27zM501 263h6v1h-6zM519 263h7v1h-7zM405 264h27v1h-27zM440 264h9v1h-9zM451 264h12v1h-12zM467 264h27v1h-27zM501 264h8v1h-8zM519 264h8v1h-8zM405 265h27v1h-27zM440 265h8v1h-8zM451 265h11v1h-11zM467 265h27v1h-27zM500 265h11v1h-11zM518 265h9v1h-9zM405 266h28v1h-28zM440 266h8v1h-8zM451 266h9v1h-9zM466 266h29v1h-29zM499 266h14v1h-14zM518 266h9v1h-9zM404 267h29v1h-29zM440 267h8v1h-8zM451 267h9v1h-9zM466 267h29v1h-29zM498 267h16v1h-16zM518 267h8v1h-8zM404 268h29v1h-29zM440 268h8v1h-8zM451 268h9v1h-9zM466 268h29v1h-29zM498 268h16v1h-16zM517 268h9v1h-9zM404 269h30v1h-30zM439 269h9v1h-9zM452 269h8v1h-8zM466 269h29v1h-29zM497 269h16v1h-16zM517 269h9v1h-9zM424 270h9v1h-9zM439 270h8v1h-8zM452 270h8v1h-8zM466 270h29v1h-29zM498 270h14v1h-14zM517 270h9v1h-9zM424 271h9v1h-9zM439 271h8v1h-8zM452 271h9v1h-9zM471 271h4v1h-4zM484 271h11v1h-11zM500 271h12v1h-12zM516 271h9v1h-9zM414 272h18v1h-18zM439 272h8v1h-8zM452 272h9v1h-9zM471 272h4v1h-4zM484 272h10v1h-10zM503 272h8v1h-8zM516 272h9v1h-9zM414 273h18v1h-18zM438 273h9v1h-9zM452 273h9v1h-9zM470 273h6v1h-6zM483 273h11v1h-11zM505 273h5v1h-5zM515 273h10v1h-10zM414 274h17v1h-17zM438 274h8v1h-8zM452 274h9v1h-9zM469 274h8v1h-8zM482 274h11v1h-11zM508 274h1v1h-1zM514 274h10v1h-10zM413 275h18v1h-18zM437 275h9v1h-9zM452 275h9v1h-9zM467 275h11v1h-11zM481 275h11v1h-11zM514 275h10v1h-10zM413 276h17v1h-17zM437 276h9v1h-9zM453 276h8v1h-8zM466 276h13v1h-13zM480 276h11v1h-11zM513 276h10v1h-10zM413 277h17v1h-17zM436 277h9v1h-9zM453 277h9v1h-9zM467 277h23v1h-23zM511 277h11v1h-11zM412 278h17v1h-17zM436 278h9v1h-9zM453 278h9v1h-9zM468 278h21v1h-21zM510 278h12v1h-12zM411 279h17v1h-17zM435 279h10v1h-10zM453 279h9v1h-9zM469 279h19v1h-19zM508 279h13v1h-13zM410 280h10v1h-10zM421 280h7v1h-7zM435 280h9v1h-9zM453 280h9v1h-9zM470 280h17v1h-17zM506 280h15v1h-15zM405 281h14v1h-14zM422 281h5v1h-5zM434 281h10v1h-10zM453 281h9v1h-9zM471 281h15v1h-15zM498 281h22v1h-22zM402 282h17v1h-17zM422 282h4v1h-4zM433 282h10v1h-10zM453 282h9v1h-9zM471 282h15v1h-15zM496 282h23v1h-23zM402 283h16v1h-16zM423 283h2v1h-2zM433 283h10v1h-10zM453 283h9v1h-9zM472 283h13v1h-13zM496 283h22v1h-22zM403 284h15v1h-15zM432 284h10v1h-10zM453 284h9v1h-9zM473 284h12v1h-12zM496 284h21v1h-21zM403 285h14v1h-14zM431 285h11v1h-11zM454 285h9v1h-9zM474 285h12v1h-12zM496 285h20v1h-20zM403 286h13v1h-13zM432 286h9v1h-9zM454 286h9v1h-9zM474 286h13v1h-13zM497 286h17v1h-17zM403 287h12v1h-12zM433 287h8v1h-8zM454 287h8v1h-8zM475 287h12v1h-12zM497 287h16v1h-16zM403 288h10v1h-10zM435 288h5v1h-5zM454 288h6v1h-6zM476 288h11v1h-11zM497 288h14v1h-14zM404 289h8v1h-8zM436 289h4v1h-4zM454 289h4v1h-4zM477 289h8v1h-8zM497 289h11v1h-11zM404 290h6v1h-6zM437 290h2v1h-2zM454 290h3v1h-3zM477 290h6v1h-6zM497 290h9v1h-9zM404 291h3v1h-3zM478 291h3v1h-3zM497 291h5v1h-5zM479 292h1v1h-1z" fill="#e5e5e5"/>
<path d="M554 299h2v1h-2zM553 300h4v1h-4zM552 301h6v1h-6zM551 302h7v1h-7zM551 303h3v1h-3zM555 303h3v1h-3zM550 304h3v1h-3zM556 304h3v1h-3zM550 305h2v1h-2zM556 305h3v1h-3zM550 306h2v1h-2zM556 306h3v1h-3zM549 307h3v1h-3zM556 307h3v1h-3zM549 308h2v1h-2zM556 308h2v1h-2zM430 309h1v1h-1zM549 309h2v1h-2zM556 309h2v1h-2zM429 310h4v1h-4zM549 310h2v1h-2zM556 310h2v1h-2zM429 311h7v1h-7zM549 311h3v1h-3zM555 311h3v1h-3zM428 312h10v1h-10zM549 312h3v1h-3zM555 312h3v1h-3zM428 313h12v1h-12zM450 313h2v1h-2zM522 313h35v1h-35zM428 314h13v1h-13zM450 314h4v1h-4zM521 314h36v1h-36zM428 315h14v1h-14zM449 315h6v1h-6zM521 315h35v1h-35zM427 316h15v1h-15zM449 316h9v1h-9zM521 316h34v1h-34zM427 317h15v1h-15zM449 317h10v1h-10zM521 317h33v1h-33zM427 318h15v1h-15zM449 318h10v1h-10zM521 318h31v1h-31zM427 319h15v1h-15zM448 319h10v1h-10zM521 319h31v1h-31zM427 320h15v1h-15zM448 320h10v1h-10zM503 320h4v1h-4zM521 320h31v1h-31zM427 321h14v1h-14zM448 321h10v1h-10zM499 321h8v1h-8zM512 321h1v1h-1zM521 321h31v1h-31zM427 322h14v1h-14zM448 322h10v1h-10zM459 322h27v1h-27zM493 322h4v1h-4zM499 322h8v1h-8zM512 322h4v1h-4zM520 322h33v1h-33zM430 323h11v1h-11zM447 323h11v1h-11zM459 323h27v1h-27zM491 323h6v1h-6zM499 323h8v1h-8zM511 323h6v1h-6zM520 323h33v1h-33zM434 324h7v1h-7zM447 324h10v1h-10zM458 324h28v1h-28zM489 324h8v1h-8zM499 324h8v1h-8zM511 324h42v1h-42zM435 325h5v1h-5zM447 325h10v1h-10zM458 325h27v1h-27zM489 325h8v1h-8zM499 325h8v1h-8zM511 325h42v1h-42zM423 326h8v1h-8zM438 326h2v1h-2zM446 326h11v1h-11zM458 326h27v1h-27zM489 326h8v1h-8zM499 326h8v1h-8zM510 326h43v1h-43zM423 327h10v1h-10zM446 327h11v1h-11zM458 327h27v1h-27zM489 327h9v1h-9zM499 327h8v1h-8zM510 327h43v1h-43zM423 328h13v1h-13zM446 328h10v1h-10zM458 328h27v1h-27zM489 328h9v1h-9zM499 328h9v1h-9zM510 328h43v1h-43zM423 329h14v1h-14zM446 329h10v1h-10zM458 329h27v1h-27zM490 329h8v1h-8zM499 329h9v1h-9zM510 329h43v1h-43zM423 330h14v1h-14zM445 330h11v1h-11zM458 330h27v1h-27zM490 330h8v1h-8zM500 330h8v1h-8zM509 330h10v1h-10zM542 330h10v1h-10zM423 331h14v1h-14zM445 331h11v1h-11zM458 331h27v1h-27zM490 331h8v1h-8zM500 331h8v1h-8zM509 331h10v1h-10zM541 331h11v1h-11zM422 332h15v1h-15zM444 332h11v1h-11zM458 332h27v1h-27zM490 332h8v1h-8zM500 332h19v1h-19zM541 332h10v1h-10zM422 333h15v1h-15zM444 333h11v1h-11zM458 333h26v1h-26zM490 333h8v1h-8zM500 333h18v1h-18zM540 333h11v1h-11zM422 334h14v1h-14zM443 334h11v1h-11zM476 334h8v1h-8zM490 334h8v1h-8zM500 334h18v1h-18zM539 334h12v1h-12zM422 335h14v1h-14zM443 335h11v1h-11zM476 335h8v1h-8zM490 335h8v1h-8zM500 335h17v1h-17zM538 335h12v1h-12zM422 336h14v1h-14zM442 336h12v1h-12zM476 336h8v1h-8zM490 336h8v1h-8zM500 336h17v1h-17zM538 336h12v1h-12zM422 337h14v1h-14zM441 337h12v1h-12zM458 337h26v1h-26zM490 337h8v1h-8zM500 337h17v1h-17zM537 337h12v1h-12zM422 338h14v1h-14zM441 338h12v1h-12zM457 338h27v1h-27zM491 338h8v1h-8zM500 338h4v1h-4zM505 338h12v1h-12zM536 338h13v1h-13zM427 339h9v1h-9zM440 339h13v1h-13zM457 339h27v1h-27zM491 339h8v1h-8zM505 339h11v1h-11zM535 339h13v1h-13zM431 340h4v1h-4zM439 340h13v1h-13zM457 340h27v1h-27zM491 340h7v1h-7zM504 340h12v1h-12zM534 340h14v1h-14zM437 341h15v1h-15zM457 341h27v1h-27zM491 341h4v1h-4zM503 341h12v1h-12zM532 341h15v1h-15zM437 342h14v1h-14zM457 342h26v1h-26zM491 342h3v1h-3zM502 342h13v1h-13zM531 342h16v1h-16zM434 343h17v1h-17zM457 343h26v1h-26zM501 343h13v1h-13zM528 343h18v1h-18zM433 344h17v1h-17zM457 344h26v1h-26zM500 344h14v1h-14zM527 344h19v1h-19zM430 345h20v1h-20zM457 345h26v1h-26zM498 345h15v1h-15zM523 345h22v1h-22zM427 346h22v1h-22zM457 346h26v1h-26zM496 346h17v1h-17zM520 346h25v1h-25zM420 347h28v1h-28zM457 347h26v1h-26zM493 347h19v1h-19zM518 347h26v1h-26zM420 348h28v1h-28zM474 348h9v1h-9zM490 348h22v1h-22zM518 348h25v1h-25zM420 349h27v1h-27zM474 349h9v1h-9zM488 349h23v1h-23zM518 349h24v1h-24zM420 350h26v1h-26zM456 350h2v1h-2zM474 350h8v1h-8zM488 350h22v1h-22zM518 350h24v1h-24zM420 351h25v1h-25zM454 351h28v1h-28zM489 351h20v1h-20zM518 351h23v1h-23zM421 352h24v1h-24zM454 352h28v1h-28zM489 352h20v1h-20zM519 352h21v1h-21zM421 353h23v1h-23zM454 353h28v1h-28zM489 353h19v1h-19zM519 353h20v1h-20zM421 354h22v1h-22zM454 354h28v1h-28zM490 354h17v1h-17zM519 354h19v1h-19zM421 355h21v1h-21zM454 355h28v1h-28zM490 355h16v1h-16zM519 355h18v1h-18zM421 356h19v1h-19zM454 356h28v1h-28zM490 356h15v1h-15zM520 356h16v1h-16zM421 357h18v1h-18zM454 357h28v1h-28zM490 357h14v1h-14zM520 357h15v1h-15zM421 358h17v1h-17zM454 358h27v1h-27zM490 358h12v1h-12zM520 358h13v1h-13z" fill="#e5e5e5"/>
<path d="M533 255 L536.5 268 L539.5 258 L542.5 268 L545 255" fill="none" stroke="#e5e5e5" stroke-width="3.5" shape-rendering="crispEdges"/>
<path d="M538.5 272 V289" fill="none" stroke="#e5e5e5" stroke-width="4.5" shape-rendering="crispEdges"/>
<path d="M22 229h3v1h-3zM21 230h1v1h-1zM25 230h1v1h-1zM20 231h1v1h-1zM26 231h1v1h-1zM26 232h1v1h-1zM25 233h1v1h-1zM24 234h1v1h-1zM22 235h2v1h-2zM21 236h1v1h-1zM21 237h1v1h-1zM21 238h1v1h-1zM22 239h6v1h-6z" fill="#000"/>
<path d="M37 229h7v1h-7zM36 230h1v1h-1zM36 231h1v1h-1zM36 232h1v1h-1zM36 233h7v1h-7zM36 234h1v1h-1zM36 235h1v1h-1zM36 236h1v1h-1zM36 237h1v1h-1zM36 238h1v1h-1z" fill="#000"/>
<rect x="122" y="216" width="432" height="5" fill="#000"/>
<rect x="122" y="216" width="5" height="42" fill="#000"/>
<rect x="106" y="253" width="21" height="5" fill="#000"/>
<rect x="106" y="253" width="6" height="9" fill="#000"/>
<rect x="106" y="262" width="1" height="43" fill="#000"/>
<rect x="109" y="262" width="1" height="43" fill="#000"/>
<rect x="111" y="262" width="1" height="43" fill="#000"/>
<rect x="104" y="283" width="10" height="1" fill="#000"/>
<rect x="106" y="305" width="6" height="12" fill="#000"/>
<rect x="106" y="312" width="21" height="5" fill="#000"/>
<rect x="126" y="258" width="1" height="54" fill="#000"/>
<rect x="122" y="312" width="5" height="46" fill="#000"/>
<rect x="122" y="353" width="432" height="5" fill="#000"/>
<rect x="127" y="246" width="89" height="1" fill="#000"/>
<rect x="215" y="221" width="1" height="26" fill="#000"/>
<rect x="133" y="222" width="24" height="1" fill="#000"/>
<rect x="133" y="244" width="24" height="1" fill="#000"/>
<rect x="133" y="222" width="1" height="23" fill="#000"/>
<rect x="156" y="222" width="1" height="23" fill="#000"/>
<path d="M144.5 225.5 H146.5 L148.5 227.5 V229.5 L146.5 231.5 H144.5 L142.5 229.5 V227.5 Z" fill="none" stroke="#000" stroke-width="1" shape-rendering="crispEdges"/>
<path d="M140.5 228.5 H142.5M148.5 228.5 H150.5M145.5 222.5 V225.5M145.5 231.5 V232.5" fill="none" stroke="#000" stroke-width="1" shape-rendering="crispEdges"/>
<path d="M139.5 233.5 H141.5 L143.5 235.5 V237.5 L141.5 239.5 H139.5 L137.5 237.5 V235.5 Z" fill="none" stroke="#000" stroke-width="1" shape-rendering="crispEdges"/>
<path d="M135.5 236.5 H137.5M143.5 236.5 H145.0M140.5 232.5 V233.5M140.5 239.5 V240.5" fill="none" stroke="#000" stroke-width="1" shape-rendering="crispEdges"/>
<path d="M148.5 233.5 H150.5 L152.5 235.5 V237.5 L150.5 239.5 H148.5 L146.5 237.5 V235.5 Z" fill="none" stroke="#000" stroke-width="1" shape-rendering="crispEdges"/>
<path d="M145.0 236.5 H146.5M152.5 236.5 H154.5M149.5 232.5 V233.5M149.5 239.5 V240.5" fill="none" stroke="#000" stroke-width="1" shape-rendering="crispEdges"/>
<path d="M184.5 222.5 H207.5 L211.5 226.5 V239.5 L207.5 243.5 H184.5 L180.5 239.5 V226.5 Z" fill="none" stroke="#000" stroke-width="1" shape-rendering="crispEdges"/>
<path d="M181 228 L183.5 225.5 H208.5 L211 228" fill="none" stroke="#000" stroke-width="1" shape-rendering="crispEdges"/>
<path d="M181 238 L183.5 241.5 H208.5 L211 238" fill="none" stroke="#000" stroke-width="1" shape-rendering="crispEdges"/>
<path d="M190.5 225.5 V227.5 Q190.5 229.5 192 229.5 Q193.5 229.5 193.5 227.5 V225.5" fill="none" stroke="#000" stroke-width="1" shape-rendering="crispEdges"/>
<rect x="184" y="217" width="23" height="1" fill="#fff"/>
<rect x="184" y="219" width="23" height="1" fill="#fff"/>
<rect x="195" y="213" width="1" height="10" fill="#000"/>
<rect x="196" y="221" width="3" height="18" fill="#fff"/>
<rect x="196" y="221" width="3" height="1" fill="#000"/>
<rect x="196" y="238" width="3" height="1" fill="#000"/>
<rect x="196" y="221" width="1" height="18" fill="#000"/>
<rect x="198" y="221" width="1" height="18" fill="#000"/>
<path d="M218 222h3v1h-3zM222 222h3v1h-3zM226 222h3v1h-3zM230 222h3v1h-3zM234 222h3v1h-3zM238 222h3v1h-3z"/>
<path d="M218 246h3v1h-3zM222 246h3v1h-3zM226 246h3v1h-3zM230 246h3v1h-3zM234 246h3v1h-3zM238 246h3v1h-3z"/>
<path d="M218 222h1v3h-1zM218 226h1v3h-1zM218 230h1v3h-1zM218 234h1v3h-1zM218 238h1v3h-1zM218 242h1v3h-1zM218 246h1v1h-1z"/>
<path d="M241 222h1v3h-1zM241 226h1v3h-1zM241 230h1v3h-1zM241 234h1v3h-1zM241 238h1v3h-1zM241 242h1v3h-1zM241 246h1v1h-1z"/>
<path d="M220 224 L240 245 M240 224 L220 245" fill="none" stroke="#000" stroke-width="1" shape-rendering="crispEdges" stroke-dasharray="2.5,1.5"/>
<rect x="244" y="221" width="4" height="33" fill="#000"/>
<rect x="248" y="221" width="1" height="28" fill="#000"/>
<rect x="257" y="221" width="1" height="28" fill="#000"/>
<rect x="265" y="221" width="1" height="28" fill="#000"/>
<rect x="274" y="221" width="1" height="28" fill="#000"/>
<rect x="283" y="221" width="1" height="28" fill="#000"/>
<rect x="292" y="221" width="1" height="28" fill="#000"/>
<rect x="300" y="221" width="1" height="28" fill="#000"/>
<rect x="309" y="221" width="1" height="28" fill="#000"/>
<rect x="318" y="221" width="1" height="28" fill="#000"/>
<rect x="248" y="235" width="71" height="1" fill="#000"/>
<rect x="244" y="249" width="83" height="5" fill="#000"/>
<path d="M302 225.5 L314 235.5 L302 246.5" fill="none" stroke="#000" stroke-width="1" shape-rendering="crispEdges"/>
<rect x="327" y="249" width="29" height="1" fill="#000"/>
<rect x="327" y="253" width="29" height="1" fill="#000"/>
<rect x="327" y="249" width="1" height="5" fill="#000"/>
<rect x="355" y="249" width="1" height="5" fill="#000"/>
<rect x="355" y="221" width="5" height="33" fill="#000"/>
<rect x="359" y="249" width="6" height="5" fill="#000"/>
<rect x="365" y="249" width="78" height="5" fill="#fff"/>
<rect x="365" y="249" width="78" height="1" fill="#000"/>
<rect x="365" y="251" width="78" height="1" fill="#000"/>
<rect x="365" y="253" width="78" height="1" fill="#000"/>
<rect x="401" y="246" width="1" height="10" fill="#000"/>
<path d="M390 227h1v1h-1zM390 228h1v1h-1zM395 228h5v1h-5zM390 229h1v1h-1zM394 229h1v1h-1zM397 229h1v1h-1zM400 229h1v1h-1zM388 230h5v1h-5zM394 230h1v1h-1zM397 230h1v1h-1zM400 230h1v1h-1zM390 231h1v1h-1zM394 231h7v1h-7zM390 232h1v1h-1zM394 232h1v1h-1zM397 232h1v1h-1zM400 232h1v1h-1zM390 233h1v1h-1zM392 233h1v1h-1zM394 233h1v1h-1zM397 233h1v1h-1zM400 233h1v1h-1zM390 234h2v1h-2zM394 234h1v1h-1zM397 234h1v1h-1zM400 234h1v1h-1zM390 235h1v1h-1zM395 235h5v1h-5zM390 236h1v1h-1zM397 236h1v1h-1zM390 237h1v1h-1zM397 237h1v1h-1zM390 238h1v1h-1zM397 238h1v1h-1zM390 239h1v1h-1zM397 239h1v1h-1zM388 240h2v1h-2zM397 240h1v1h-1z" fill="#000"/>
<path d="M406 227h3v1h-3zM409 228h1v1h-1zM409 229h1v1h-1zM409 230h1v1h-1zM409 231h1v1h-1zM409 232h2v1h-2zM408 233h1v1h-1zM411 233h1v1h-1zM408 234h1v1h-1zM411 234h1v1h-1zM407 235h1v1h-1zM412 235h1v1h-1zM407 236h1v1h-1zM413 236h1v1h-1zM406 237h1v1h-1zM414 237h1v1h-1zM404 238h2v1h-2zM415 238h2v1h-2z" fill="#000"/>
<rect x="442" y="216" width="5" height="42" fill="#000"/>
<rect x="126" y="275" width="86" height="1" fill="#000"/>
<rect x="126" y="296" width="86" height="1" fill="#000"/>
<rect x="126" y="275" width="1" height="22" fill="#000"/>
<rect x="211" y="275" width="1" height="22" fill="#000"/>
<path d="M145 280h1v1h-1zM157 280h1v1h-1zM145 281h1v1h-1zM157 281h1v1h-1zM181 281h1v1h-1zM145 282h1v1h-1zM153 282h9v1h-9zM166 282h2v1h-2zM180 282h6v1h-6zM141 283h9v1h-9zM153 283h1v1h-1zM161 283h1v1h-1zM168 283h1v1h-1zM174 283h1v1h-1zM180 283h1v1h-1zM185 283h1v1h-1zM145 284h1v1h-1zM149 284h1v1h-1zM153 284h1v1h-1zM161 284h1v1h-1zM173 284h2v1h-2zM179 284h2v1h-2zM185 284h1v1h-1zM145 285h1v1h-1zM149 285h1v1h-1zM153 285h1v1h-1zM161 285h1v1h-1zM173 285h1v1h-1zM178 285h1v1h-1zM180 285h2v1h-2zM184 285h1v1h-1zM188 285h12v1h-12zM144 286h1v1h-1zM149 286h1v1h-1zM153 286h1v1h-1zM161 286h1v1h-1zM172 286h1v1h-1zM177 286h1v1h-1zM182 286h1v1h-1zM184 286h1v1h-1zM144 287h1v1h-1zM149 287h1v1h-1zM160 287h1v1h-1zM171 287h1v1h-1zM182 287h2v1h-2zM143 288h1v1h-1zM149 288h1v1h-1zM160 288h1v1h-1zM169 288h2v1h-2zM182 288h1v1h-1zM142 289h2v1h-2zM149 289h1v1h-1zM159 289h1v1h-1zM167 289h2v1h-2zM181 289h2v1h-2zM141 290h1v1h-1zM146 290h3v1h-3zM157 290h2v1h-2zM166 290h1v1h-1zM180 290h1v1h-1zM156 291h1v1h-1zM179 291h1v1h-1z" fill="#000"/>
<path d="M182 314h1v1h-1zM182 315h1v1h-1zM182 316h1v1h-1zM182 317h1v1h-1zM182 318h1v1h-1zM182 319h1v1h-1zM182 320h1v1h-1zM182 321h1v1h-1zM182 322h1v1h-1zM182 323h1v1h-1zM182 324h1v1h-1zM183 325h10v1h-10z" fill="#000"/>
<path d="M202 314h6v1h-6zM201 315h1v1h-1zM208 315h2v1h-2zM201 316h1v1h-1zM210 316h1v1h-1zM201 317h1v1h-1zM211 317h1v1h-1zM201 318h1v1h-1zM211 318h1v1h-1zM201 319h1v1h-1zM211 319h1v1h-1zM201 320h1v1h-1zM211 320h1v1h-1zM201 321h1v1h-1zM211 321h1v1h-1zM201 322h1v1h-1zM211 322h1v1h-1zM201 323h1v1h-1zM211 323h1v1h-1zM201 324h1v1h-1zM211 324h1v1h-1zM201 325h1v1h-1zM209 325h2v1h-2zM202 326h7v1h-7z" fill="#000"/>
<path d="M230 314h2v1h-2zM221 315h1v1h-1zM229 315h1v1h-1zM221 316h1v1h-1zM228 316h1v1h-1zM221 317h1v1h-1zM227 317h1v1h-1zM221 318h1v1h-1zM226 318h1v1h-1zM221 319h1v1h-1zM226 319h1v1h-1zM221 320h1v1h-1zM223 320h4v1h-4zM222 321h1v1h-1zM227 321h1v1h-1zM221 322h1v1h-1zM228 322h1v1h-1zM221 323h1v1h-1zM229 323h1v1h-1zM221 324h1v1h-1zM229 324h1v1h-1zM221 325h1v1h-1zM230 325h1v1h-1zM221 326h1v1h-1zM231 326h1v1h-1zM232 327h2v1h-2z" fill="#000"/>
<path d="M244 314h4v1h-4zM243 315h1v1h-1zM248 315h2v1h-2zM243 316h1v1h-1zM250 316h1v1h-1zM242 317h1v1h-1zM250 317h1v1h-1zM242 318h1v1h-1zM250 318h1v1h-1zM242 319h1v1h-1zM250 319h1v1h-1zM243 320h1v1h-1zM250 320h1v1h-1zM244 321h1v1h-1zM248 321h3v1h-3zM245 322h3v1h-3zM250 322h1v1h-1zM250 323h1v1h-1zM250 324h1v1h-1zM242 325h2v1h-2zM249 325h1v1h-1zM244 326h5v1h-5z" fill="#000"/>
<path d="M261 312h1v1h-1zM261 313h1v1h-1zM269 313h1v1h-1zM261 314h1v1h-1zM269 314h1v1h-1zM259 315h5v1h-5zM269 315h7v1h-7zM258 316h1v1h-1zM261 316h1v1h-1zM264 316h1v1h-1zM269 316h1v1h-1zM258 317h1v1h-1zM261 317h1v1h-1zM264 317h1v1h-1zM269 317h1v1h-1zM258 318h1v1h-1zM261 318h1v1h-1zM264 318h1v1h-1zM269 318h1v1h-1zM258 319h1v1h-1zM261 319h1v1h-1zM264 319h1v1h-1zM269 319h1v1h-1zM258 320h1v1h-1zM261 320h1v1h-1zM264 320h1v1h-1zM267 320h6v1h-6zM258 321h1v1h-1zM261 321h1v1h-1zM264 321h1v1h-1zM266 321h1v1h-1zM273 321h1v1h-1zM258 322h1v1h-1zM261 322h1v1h-1zM264 322h1v1h-1zM266 322h1v1h-1zM273 322h1v1h-1zM258 323h1v1h-1zM261 323h1v1h-1zM264 323h1v1h-1zM266 323h1v1h-1zM273 323h1v1h-1zM261 324h3v1h-3zM266 324h1v1h-1zM273 324h1v1h-1zM261 325h1v1h-1zM266 325h1v1h-1zM273 325h1v1h-1zM261 326h1v1h-1zM266 326h1v1h-1zM273 326h1v1h-1zM261 327h1v1h-1zM267 327h6v1h-6z" fill="#000"/>
<rect x="320" y="253" width="5" height="5" fill="#000"/>
<rect x="320" y="258" width="1" height="62" fill="#000"/>
<rect x="322" y="258" width="1" height="62" fill="#000"/>
<rect x="324" y="258" width="1" height="62" fill="#000"/>
<rect x="318" y="290" width="9" height="1" fill="#000"/>
<rect x="320" y="320" width="5" height="38" fill="#000"/>
<rect x="442" y="258" width="1" height="63" fill="#000"/>
<rect x="444" y="258" width="1" height="63" fill="#000"/>
<rect x="446" y="258" width="1" height="63" fill="#000"/>
<rect x="440" y="290" width="9" height="1" fill="#000"/>
<rect x="442" y="321" width="5" height="37" fill="#000"/>
<rect x="357" y="254" width="1" height="99" fill="#000"/>
<rect x="358" y="283" width="84" height="1" fill="#000"/>
<rect x="400" y="284" width="1" height="69" fill="#000"/>
<rect x="325" y="320" width="32" height="1" fill="#000"/>
<path d="M326 255h3v1h-3zM330 255h3v1h-3zM334 255h3v1h-3zM338 255h3v1h-3zM342 255h3v1h-3zM346 255h3v1h-3zM350 255h3v1h-3zM354 255h2v1h-2z"/>
<path d="M326 318h3v1h-3zM330 318h3v1h-3zM334 318h3v1h-3zM338 318h3v1h-3zM342 318h3v1h-3zM346 318h3v1h-3zM350 318h3v1h-3zM354 318h2v1h-2z"/>
<path d="M326 255h1v3h-1zM326 259h1v3h-1zM326 263h1v3h-1zM326 267h1v3h-1zM326 271h1v3h-1zM326 275h1v3h-1zM326 279h1v3h-1zM326 283h1v3h-1zM326 287h1v3h-1zM326 291h1v3h-1zM326 295h1v3h-1zM326 299h1v3h-1zM326 303h1v3h-1zM326 307h1v3h-1zM326 311h1v3h-1zM326 315h1v3h-1z"/>
<path d="M355 255h1v3h-1zM355 259h1v3h-1zM355 263h1v3h-1zM355 267h1v3h-1zM355 271h1v3h-1zM355 275h1v3h-1zM355 279h1v3h-1zM355 283h1v3h-1zM355 287h1v3h-1zM355 291h1v3h-1zM355 295h1v3h-1zM355 299h1v3h-1zM355 303h1v3h-1zM355 307h1v3h-1zM355 311h1v3h-1zM355 315h1v3h-1z"/>
<path d="M359 255h3v1h-3zM363 255h3v1h-3zM367 255h3v1h-3zM371 255h3v1h-3zM375 255h3v1h-3zM379 255h3v1h-3zM383 255h3v1h-3zM387 255h3v1h-3zM391 255h3v1h-3zM395 255h3v1h-3zM399 255h3v1h-3zM403 255h3v1h-3zM407 255h3v1h-3zM411 255h3v1h-3zM415 255h3v1h-3zM419 255h3v1h-3zM423 255h3v1h-3zM427 255h3v1h-3zM431 255h3v1h-3zM435 255h3v1h-3zM439 255h2v1h-2z"/>
<path d="M359 281h3v1h-3zM363 281h3v1h-3zM367 281h3v1h-3zM371 281h3v1h-3zM375 281h3v1h-3zM379 281h3v1h-3zM383 281h3v1h-3zM387 281h3v1h-3zM391 281h3v1h-3zM395 281h3v1h-3zM399 281h3v1h-3zM403 281h3v1h-3zM407 281h3v1h-3zM411 281h3v1h-3zM415 281h3v1h-3zM419 281h3v1h-3zM423 281h3v1h-3zM427 281h3v1h-3zM431 281h3v1h-3zM435 281h3v1h-3zM439 281h2v1h-2z"/>
<path d="M359 255h1v3h-1zM359 259h1v3h-1zM359 263h1v3h-1zM359 267h1v3h-1zM359 271h1v3h-1zM359 275h1v3h-1zM359 279h1v3h-1z"/>
<path d="M440 255h1v3h-1zM440 259h1v3h-1zM440 263h1v3h-1zM440 267h1v3h-1zM440 271h1v3h-1zM440 275h1v3h-1zM440 279h1v3h-1z"/>
<path d="M359 285h3v1h-3zM363 285h3v1h-3zM367 285h3v1h-3zM371 285h3v1h-3zM375 285h3v1h-3zM379 285h3v1h-3zM383 285h3v1h-3zM387 285h3v1h-3zM391 285h3v1h-3zM395 285h3v1h-3z"/>
<path d="M359 351h3v1h-3zM363 351h3v1h-3zM367 351h3v1h-3zM371 351h3v1h-3zM375 351h3v1h-3zM379 351h3v1h-3zM383 351h3v1h-3zM387 351h3v1h-3zM391 351h3v1h-3zM395 351h3v1h-3z"/>
<path d="M359 285h1v3h-1zM359 289h1v3h-1zM359 293h1v3h-1zM359 297h1v3h-1zM359 301h1v3h-1zM359 305h1v3h-1zM359 309h1v3h-1zM359 313h1v3h-1zM359 317h1v3h-1zM359 321h1v3h-1zM359 325h1v3h-1zM359 329h1v3h-1zM359 333h1v3h-1zM359 337h1v3h-1zM359 341h1v3h-1zM359 345h1v3h-1zM359 349h1v3h-1z"/>
<path d="M398 285h1v3h-1zM398 289h1v3h-1zM398 293h1v3h-1zM398 297h1v3h-1zM398 301h1v3h-1zM398 305h1v3h-1zM398 309h1v3h-1zM398 313h1v3h-1zM398 317h1v3h-1zM398 321h1v3h-1zM398 325h1v3h-1zM398 329h1v3h-1zM398 333h1v3h-1zM398 337h1v3h-1zM398 341h1v3h-1zM398 345h1v3h-1zM398 349h1v3h-1z"/>
<path d="M402 285h3v1h-3zM406 285h3v1h-3zM410 285h3v1h-3zM414 285h3v1h-3zM418 285h3v1h-3zM422 285h3v1h-3zM426 285h3v1h-3zM430 285h3v1h-3zM434 285h3v1h-3zM438 285h3v1h-3z"/>
<path d="M402 351h3v1h-3zM406 351h3v1h-3zM410 351h3v1h-3zM414 351h3v1h-3zM418 351h3v1h-3zM422 351h3v1h-3zM426 351h3v1h-3zM430 351h3v1h-3zM434 351h3v1h-3zM438 351h3v1h-3z"/>
<path d="M402 285h1v3h-1zM402 289h1v3h-1zM402 293h1v3h-1zM402 297h1v3h-1zM402 301h1v3h-1zM402 305h1v3h-1zM402 309h1v3h-1zM402 313h1v3h-1zM402 317h1v3h-1zM402 321h1v3h-1zM402 325h1v3h-1zM402 329h1v3h-1zM402 333h1v3h-1zM402 337h1v3h-1zM402 341h1v3h-1zM402 345h1v3h-1zM402 349h1v3h-1z"/>
<path d="M440 285h1v3h-1zM440 289h1v3h-1zM440 293h1v3h-1zM440 297h1v3h-1zM440 301h1v3h-1zM440 305h1v3h-1zM440 309h1v3h-1zM440 313h1v3h-1zM440 317h1v3h-1zM440 321h1v3h-1zM440 325h1v3h-1zM440 329h1v3h-1zM440 333h1v3h-1zM440 337h1v3h-1zM440 341h1v3h-1zM440 345h1v3h-1zM440 349h1v3h-1z"/>
<path d="M326 322h3v1h-3zM330 322h3v1h-3zM334 322h3v1h-3zM338 322h3v1h-3zM342 322h3v1h-3zM346 322h3v1h-3zM350 322h3v1h-3zM354 322h2v1h-2z"/>
<path d="M326 351h3v1h-3zM330 351h3v1h-3zM334 351h3v1h-3zM338 351h3v1h-3zM342 351h3v1h-3zM346 351h3v1h-3zM350 351h3v1h-3zM354 351h2v1h-2z"/>
<path d="M326 322h1v3h-1zM326 326h1v3h-1zM326 330h1v3h-1zM326 334h1v3h-1zM326 338h1v3h-1zM326 342h1v3h-1zM326 346h1v3h-1zM326 350h1v2h-1z"/>
<path d="M355 322h1v3h-1zM355 326h1v3h-1zM355 330h1v3h-1zM355 334h1v3h-1zM355 338h1v3h-1zM355 342h1v3h-1zM355 346h1v3h-1zM355 350h1v2h-1z"/>
<rect x="326" y="254" width="1" height="28" fill="#000"/>
<path d="M326.5 281.5 A28 28 0 0 0 354.5 253.5" fill="none" stroke="#000" stroke-width="1" shape-rendering="crispEdges"/>
<rect x="325" y="290" width="114" height="22" fill="#fff"/>
<path d="M335 293h1v1h-1zM331 294h4v1h-4zM330 295h1v1h-1zM332 295h1v1h-1zM339 295h5v1h-5zM332 296h1v1h-1zM338 296h1v1h-1zM344 296h1v1h-1zM332 297h1v1h-1zM338 297h1v1h-1zM344 297h1v1h-1zM328 298h9v1h-9zM338 298h1v1h-1zM344 298h1v1h-1zM332 299h1v1h-1zM338 299h1v1h-1zM344 299h1v1h-1zM332 300h1v1h-1zM338 300h1v1h-1zM344 300h1v1h-1zM332 301h1v1h-1zM338 301h1v1h-1zM344 301h1v1h-1zM331 302h4v1h-4zM338 302h1v1h-1zM344 302h1v1h-1zM330 303h1v1h-1zM332 303h1v1h-1zM335 303h1v1h-1zM338 303h1v1h-1zM344 303h1v1h-1zM329 304h1v1h-1zM332 304h1v1h-1zM338 304h1v1h-1zM344 304h1v1h-1zM329 305h1v1h-1zM332 305h1v1h-1zM338 305h1v1h-1zM344 305h1v1h-1zM332 306h1v1h-1zM338 306h1v1h-1zM344 306h1v1h-1zM332 307h1v1h-1zM339 307h6v1h-6zM332 308h1v1h-1zM344 308h1v1h-1zM344 309h1v1h-1z" fill="#000"/>
<path d="M357 293h1v1h-1zM357 294h1v1h-1zM351 295h14v1h-14zM350 296h1v1h-1zM365 296h1v1h-1zM350 297h1v1h-1zM365 297h1v1h-1zM350 298h1v1h-1zM352 298h12v1h-12zM365 298h1v1h-1zM355 299h1v1h-1zM361 299h1v1h-1zM355 300h1v1h-1zM361 300h1v1h-1zM354 301h9v1h-9zM351 302h3v1h-3zM357 302h1v1h-1zM363 302h1v1h-1zM357 303h1v1h-1zM357 304h1v1h-1zM351 305h14v1h-14zM357 306h1v1h-1zM357 307h1v1h-1zM357 308h1v1h-1zM349 309h18v1h-18z" fill="#000"/>
<path d="M377 295h2v1h-2zM376 296h1v1h-1zM379 296h1v1h-1zM375 297h1v1h-1zM379 297h1v1h-1zM374 298h1v1h-1zM379 298h1v1h-1zM374 299h1v1h-1zM379 299h1v1h-1zM373 300h1v1h-1zM379 300h1v1h-1zM373 301h1v1h-1zM379 301h1v1h-1zM374 302h9v1h-9zM379 303h1v1h-1zM379 304h1v1h-1zM379 305h1v1h-1z" fill="#000"/>
<rect x="392" y="306" width="2" height="2" fill="#000"/>
<path d="M405 295h7v1h-7zM404 296h1v1h-1zM404 297h1v1h-1zM404 298h1v1h-1zM403 299h1v1h-1zM403 300h1v1h-1zM406 300h4v1h-4zM404 301h2v1h-2zM410 301h1v1h-1zM411 302h1v1h-1zM411 303h1v1h-1zM411 304h1v1h-1zM411 305h1v1h-1zM411 306h1v1h-1zM404 307h2v1h-2zM410 307h1v1h-1zM406 308h4v1h-4z" fill="#000"/>
<path d="M422 293h1v1h-1zM422 294h1v1h-1zM430 294h1v1h-1zM422 295h1v1h-1zM430 295h1v1h-1zM420 296h5v1h-5zM430 296h7v1h-7zM419 297h1v1h-1zM422 297h1v1h-1zM425 297h1v1h-1zM430 297h1v1h-1zM419 298h1v1h-1zM422 298h1v1h-1zM425 298h1v1h-1zM430 298h1v1h-1zM419 299h1v1h-1zM422 299h1v1h-1zM425 299h1v1h-1zM430 299h1v1h-1zM419 300h1v1h-1zM422 300h1v1h-1zM425 300h1v1h-1zM430 300h1v1h-1zM419 301h1v1h-1zM422 301h1v1h-1zM425 301h1v1h-1zM428 301h6v1h-6zM419 302h1v1h-1zM422 302h1v1h-1zM425 302h1v1h-1zM427 302h1v1h-1zM434 302h1v1h-1zM419 303h1v1h-1zM422 303h1v1h-1zM425 303h1v1h-1zM427 303h1v1h-1zM434 303h1v1h-1zM419 304h1v1h-1zM422 304h1v1h-1zM425 304h1v1h-1zM427 304h1v1h-1zM434 304h1v1h-1zM422 305h3v1h-3zM427 305h1v1h-1zM434 305h1v1h-1zM422 306h1v1h-1zM427 306h1v1h-1zM434 306h1v1h-1zM422 307h1v1h-1zM427 307h1v1h-1zM434 307h1v1h-1zM422 308h1v1h-1zM428 308h6v1h-6z" fill="#000"/>
<rect x="550" y="216" width="4" height="29" fill="#000"/>
<rect x="549" y="245" width="1" height="82" fill="#000"/>
<rect x="551" y="245" width="1" height="82" fill="#000"/>
<rect x="553" y="245" width="1" height="82" fill="#000"/>
<rect x="549" y="286" width="7" height="1" fill="#000"/>
<rect x="549" y="327" width="5" height="31" fill="#000"/>
<rect x="516" y="221" width="1" height="132" fill="#000"/>
<rect x="447" y="253" width="69" height="1" fill="#000"/>
<rect x="447" y="320" width="69" height="1" fill="#000"/>
<rect x="481" y="254" width="1" height="66" fill="#000"/>
<rect x="517" y="288" width="32" height="1" fill="#000"/>
<path d="M448 222h3v1h-3zM452 222h3v1h-3zM456 222h3v1h-3zM460 222h3v1h-3zM464 222h3v1h-3zM468 222h3v1h-3zM472 222h3v1h-3zM476 222h3v1h-3zM480 222h3v1h-3zM484 222h3v1h-3zM488 222h3v1h-3zM492 222h3v1h-3zM496 222h3v1h-3zM500 222h3v1h-3zM504 222h3v1h-3zM508 222h3v1h-3zM512 222h3v1h-3z"/>
<path d="M448 251h3v1h-3zM452 251h3v1h-3zM456 251h3v1h-3zM460 251h3v1h-3zM464 251h3v1h-3zM468 251h3v1h-3zM472 251h3v1h-3zM476 251h3v1h-3zM480 251h3v1h-3zM484 251h3v1h-3zM488 251h3v1h-3zM492 251h3v1h-3zM496 251h3v1h-3zM500 251h3v1h-3zM504 251h3v1h-3zM508 251h3v1h-3zM512 251h3v1h-3z"/>
<path d="M448 222h1v3h-1zM448 226h1v3h-1zM448 230h1v3h-1zM448 234h1v3h-1zM448 238h1v3h-1zM448 242h1v3h-1zM448 246h1v3h-1zM448 250h1v2h-1z"/>
<path d="M514 222h1v3h-1zM514 226h1v3h-1zM514 230h1v3h-1zM514 234h1v3h-1zM514 238h1v3h-1zM514 242h1v3h-1zM514 246h1v3h-1zM514 250h1v2h-1z"/>
<path d="M518 222h3v1h-3zM522 222h3v1h-3zM526 222h3v1h-3zM530 222h3v1h-3zM534 222h3v1h-3zM538 222h3v1h-3zM542 222h3v1h-3zM546 222h2v1h-2z"/>
<path d="M518 286h3v1h-3zM522 286h3v1h-3zM526 286h3v1h-3zM530 286h3v1h-3zM534 286h3v1h-3zM538 286h3v1h-3zM542 286h3v1h-3zM546 286h2v1h-2z"/>
<path d="M518 222h1v3h-1zM518 226h1v3h-1zM518 230h1v3h-1zM518 234h1v3h-1zM518 238h1v3h-1zM518 242h1v3h-1zM518 246h1v3h-1zM518 250h1v3h-1zM518 254h1v3h-1zM518 258h1v3h-1zM518 262h1v3h-1zM518 266h1v3h-1zM518 270h1v3h-1zM518 274h1v3h-1zM518 278h1v3h-1zM518 282h1v3h-1zM518 286h1v1h-1z"/>
<path d="M547 222h1v3h-1zM547 226h1v3h-1zM547 230h1v3h-1zM547 234h1v3h-1zM547 238h1v3h-1zM547 242h1v3h-1zM547 246h1v3h-1zM547 250h1v3h-1zM547 254h1v3h-1zM547 258h1v3h-1zM547 262h1v3h-1zM547 266h1v3h-1zM547 270h1v3h-1zM547 274h1v3h-1zM547 278h1v3h-1zM547 282h1v3h-1zM547 286h1v1h-1z"/>
<path d="M518 290h3v1h-3zM522 290h3v1h-3zM526 290h3v1h-3zM530 290h3v1h-3zM534 290h3v1h-3zM538 290h3v1h-3zM542 290h3v1h-3zM546 290h2v1h-2z"/>
<path d="M518 351h3v1h-3zM522 351h3v1h-3zM526 351h3v1h-3zM530 351h3v1h-3zM534 351h3v1h-3zM538 351h3v1h-3zM542 351h3v1h-3zM546 351h2v1h-2z"/>
<path d="M518 290h1v3h-1zM518 294h1v3h-1zM518 298h1v3h-1zM518 302h1v3h-1zM518 306h1v3h-1zM518 310h1v3h-1zM518 314h1v3h-1zM518 318h1v3h-1zM518 322h1v3h-1zM518 326h1v3h-1zM518 330h1v3h-1zM518 334h1v3h-1zM518 338h1v3h-1zM518 342h1v3h-1zM518 346h1v3h-1zM518 350h1v2h-1z"/>
<path d="M547 290h1v3h-1zM547 294h1v3h-1zM547 298h1v3h-1zM547 302h1v3h-1zM547 306h1v3h-1zM547 310h1v3h-1zM547 314h1v3h-1zM547 318h1v3h-1zM547 322h1v3h-1zM547 326h1v3h-1zM547 330h1v3h-1zM547 334h1v3h-1zM547 338h1v3h-1zM547 342h1v3h-1zM547 346h1v3h-1zM547 350h1v2h-1z"/>
<path d="M448 255h3v1h-3zM452 255h3v1h-3zM456 255h3v1h-3zM460 255h3v1h-3zM464 255h3v1h-3zM468 255h3v1h-3zM472 255h3v1h-3zM476 255h3v1h-3z"/>
<path d="M448 318h3v1h-3zM452 318h3v1h-3zM456 318h3v1h-3zM460 318h3v1h-3zM464 318h3v1h-3zM468 318h3v1h-3zM472 318h3v1h-3zM476 318h3v1h-3z"/>
<path d="M448 255h1v3h-1zM448 259h1v3h-1zM448 263h1v3h-1zM448 267h1v3h-1zM448 271h1v3h-1zM448 275h1v3h-1zM448 279h1v3h-1zM448 283h1v3h-1zM448 287h1v3h-1zM448 291h1v3h-1zM448 295h1v3h-1zM448 299h1v3h-1zM448 303h1v3h-1zM448 307h1v3h-1zM448 311h1v3h-1zM448 315h1v3h-1z"/>
<path d="M479 255h1v3h-1zM479 259h1v3h-1zM479 263h1v3h-1zM479 267h1v3h-1zM479 271h1v3h-1zM479 275h1v3h-1zM479 279h1v3h-1zM479 283h1v3h-1zM479 287h1v3h-1zM479 291h1v3h-1zM479 295h1v3h-1zM479 299h1v3h-1zM479 303h1v3h-1zM479 307h1v3h-1zM479 311h1v3h-1zM479 315h1v3h-1z"/>
<path d="M483 255h3v1h-3zM487 255h3v1h-3zM491 255h3v1h-3zM495 255h3v1h-3zM499 255h3v1h-3zM503 255h3v1h-3zM507 255h3v1h-3zM511 255h3v1h-3z"/>
<path d="M483 318h3v1h-3zM487 318h3v1h-3zM491 318h3v1h-3zM495 318h3v1h-3zM499 318h3v1h-3zM503 318h3v1h-3zM507 318h3v1h-3zM511 318h3v1h-3z"/>
<path d="M483 255h1v3h-1zM483 259h1v3h-1zM483 263h1v3h-1zM483 267h1v3h-1zM483 271h1v3h-1zM483 275h1v3h-1zM483 279h1v3h-1zM483 283h1v3h-1zM483 287h1v3h-1zM483 291h1v3h-1zM483 295h1v3h-1zM483 299h1v3h-1zM483 303h1v3h-1zM483 307h1v3h-1zM483 311h1v3h-1zM483 315h1v3h-1z"/>
<path d="M514 255h1v3h-1zM514 259h1v3h-1zM514 263h1v3h-1zM514 267h1v3h-1zM514 271h1v3h-1zM514 275h1v3h-1zM514 279h1v3h-1zM514 283h1v3h-1zM514 287h1v3h-1zM514 291h1v3h-1zM514 295h1v3h-1zM514 299h1v3h-1zM514 303h1v3h-1zM514 307h1v3h-1zM514 311h1v3h-1zM514 315h1v3h-1z"/>
<path d="M448 322h3v1h-3zM452 322h3v1h-3zM456 322h3v1h-3zM460 322h3v1h-3zM464 322h3v1h-3zM468 322h3v1h-3zM472 322h3v1h-3zM476 322h3v1h-3zM480 322h3v1h-3zM484 322h3v1h-3zM488 322h3v1h-3zM492 322h3v1h-3zM496 322h3v1h-3zM500 322h3v1h-3zM504 322h3v1h-3zM508 322h3v1h-3zM512 322h3v1h-3z"/>
<path d="M448 351h3v1h-3zM452 351h3v1h-3zM456 351h3v1h-3zM460 351h3v1h-3zM464 351h3v1h-3zM468 351h3v1h-3zM472 351h3v1h-3zM476 351h3v1h-3zM480 351h3v1h-3zM484 351h3v1h-3zM488 351h3v1h-3zM492 351h3v1h-3zM496 351h3v1h-3zM500 351h3v1h-3zM504 351h3v1h-3zM508 351h3v1h-3zM512 351h3v1h-3z"/>
<path d="M448 322h1v3h-1zM448 326h1v3h-1zM448 330h1v3h-1zM448 334h1v3h-1zM448 338h1v3h-1zM448 342h1v3h-1zM448 346h1v3h-1zM448 350h1v2h-1z"/>
<path d="M514 322h1v3h-1zM514 326h1v3h-1zM514 330h1v3h-1zM514 334h1v3h-1zM514 338h1v3h-1zM514 342h1v3h-1zM514 346h1v3h-1zM514 350h1v2h-1z"/>
<rect x="453" y="278" width="87" height="21" fill="#fff"/>
<path d="M464 280h1v1h-1zM460 281h4v1h-4zM459 282h1v1h-1zM461 282h1v1h-1zM468 282h5v1h-5zM461 283h1v1h-1zM467 283h1v1h-1zM473 283h1v1h-1zM461 284h1v1h-1zM467 284h1v1h-1zM473 284h1v1h-1zM457 285h9v1h-9zM467 285h1v1h-1zM473 285h1v1h-1zM461 286h1v1h-1zM467 286h1v1h-1zM473 286h1v1h-1zM461 287h1v1h-1zM467 287h1v1h-1zM473 287h1v1h-1zM461 288h1v1h-1zM467 288h1v1h-1zM473 288h1v1h-1zM460 289h4v1h-4zM467 289h1v1h-1zM473 289h1v1h-1zM459 290h1v1h-1zM461 290h1v1h-1zM464 290h1v1h-1zM467 290h1v1h-1zM473 290h1v1h-1zM458 291h1v1h-1zM461 291h1v1h-1zM467 291h1v1h-1zM473 291h1v1h-1zM458 292h1v1h-1zM461 292h1v1h-1zM467 292h1v1h-1zM473 292h1v1h-1zM461 293h1v1h-1zM467 293h1v1h-1zM473 293h1v1h-1zM461 294h1v1h-1zM468 294h6v1h-6zM461 295h1v1h-1zM473 295h1v1h-1zM473 296h1v1h-1z" fill="#000"/>
<path d="M485 280h1v1h-1zM485 281h1v1h-1zM479 282h14v1h-14zM478 283h1v1h-1zM493 283h1v1h-1zM478 284h1v1h-1zM493 284h1v1h-1zM478 285h1v1h-1zM480 285h12v1h-12zM493 285h1v1h-1zM483 286h1v1h-1zM489 286h1v1h-1zM483 287h1v1h-1zM489 287h1v1h-1zM482 288h9v1h-9zM479 289h3v1h-3zM485 289h1v1h-1zM491 289h1v1h-1zM485 290h1v1h-1zM485 291h1v1h-1zM479 292h14v1h-14zM485 293h1v1h-1zM485 294h1v1h-1zM485 295h1v1h-1zM477 296h18v1h-18z" fill="#000"/>
<path d="M504 282h4v1h-4zM503 283h1v1h-1zM508 283h2v1h-2zM502 284h1v1h-1zM510 284h1v1h-1zM502 285h1v1h-1zM501 286h1v1h-1zM501 287h1v1h-1zM501 288h1v1h-1zM504 288h4v1h-4zM501 289h3v1h-3zM508 289h1v1h-1zM501 290h1v1h-1zM509 290h1v1h-1zM501 291h1v1h-1zM509 291h1v1h-1zM502 292h1v1h-1zM509 292h1v1h-1zM502 293h1v1h-1zM509 293h1v1h-1zM503 294h2v1h-2zM508 294h1v1h-1zM505 295h3v1h-3z" fill="#000"/>
<path d="M520 280h1v1h-1zM520 281h1v1h-1zM528 281h1v1h-1zM520 282h1v1h-1zM528 282h1v1h-1zM518 283h5v1h-5zM528 283h7v1h-7zM517 284h1v1h-1zM520 284h1v1h-1zM523 284h1v1h-1zM528 284h1v1h-1zM517 285h1v1h-1zM520 285h1v1h-1zM523 285h1v1h-1zM528 285h1v1h-1zM517 286h1v1h-1zM520 286h1v1h-1zM523 286h1v1h-1zM528 286h1v1h-1zM517 287h1v1h-1zM520 287h1v1h-1zM523 287h1v1h-1zM528 287h1v1h-1zM517 288h1v1h-1zM520 288h1v1h-1zM523 288h1v1h-1zM526 288h6v1h-6zM517 289h1v1h-1zM520 289h1v1h-1zM523 289h1v1h-1zM525 289h1v1h-1zM532 289h1v1h-1zM517 290h1v1h-1zM520 290h1v1h-1zM523 290h1v1h-1zM525 290h1v1h-1zM532 290h1v1h-1zM517 291h1v1h-1zM520 291h1v1h-1zM523 291h1v1h-1zM525 291h1v1h-1zM532 291h1v1h-1zM520 292h3v1h-3zM525 292h1v1h-1zM532 292h1v1h-1zM520 293h1v1h-1zM525 293h1v1h-1zM532 293h1v1h-1zM520 294h1v1h-1zM525 294h1v1h-1zM532 294h1v1h-1zM520 295h1v1h-1zM526 295h6v1h-6z" fill="#000"/>
<rect x="553" y="216" width="36" height="1" fill="#000"/>
<rect x="588" y="216" width="1" height="142" fill="#000"/>
<rect x="553" y="357" width="36" height="1" fill="#000"/>
<rect x="553" y="220" width="32" height="1" fill="#000"/>
<rect x="584" y="220" width="1" height="134" fill="#000"/>
<rect x="553" y="353" width="32" height="1" fill="#000"/>
<path d="M568 221h1v3h-1zM568 225h1v3h-1zM568 229h1v3h-1zM568 233h1v3h-1zM568 237h1v3h-1zM568 241h1v3h-1zM568 245h1v3h-1zM568 249h1v3h-1zM568 253h1v3h-1zM568 257h1v3h-1zM568 261h1v3h-1zM568 265h1v3h-1zM568 269h1v3h-1zM568 273h1v3h-1zM568 277h1v3h-1zM568 281h1v3h-1zM568 285h1v3h-1zM568 289h1v3h-1zM568 293h1v3h-1zM568 297h1v3h-1zM568 301h1v3h-1zM568 305h1v3h-1zM568 309h1v3h-1zM568 313h1v3h-1zM568 317h1v3h-1zM568 321h1v3h-1zM568 325h1v3h-1zM568 329h1v3h-1zM568 333h1v3h-1zM568 337h1v3h-1zM568 341h1v3h-1zM568 345h1v3h-1zM568 349h1v3h-1z"/>
<path d="M556 238h3v1h-3zM560 238h3v1h-3zM564 238h3v1h-3zM568 238h3v1h-3zM572 238h3v1h-3zM576 238h3v1h-3zM580 238h3v1h-3z"/>
<path d="M556 266h3v1h-3zM560 266h3v1h-3zM564 266h3v1h-3zM568 266h3v1h-3zM572 266h3v1h-3zM576 266h3v1h-3zM580 266h3v1h-3z"/>
<path d="M556 291h3v1h-3zM560 291h3v1h-3zM564 291h3v1h-3zM568 291h3v1h-3zM572 291h3v1h-3zM576 291h3v1h-3zM580 291h3v1h-3z"/>
<path d="M556 318h3v1h-3zM560 318h3v1h-3zM564 318h3v1h-3zM568 318h3v1h-3zM572 318h3v1h-3zM576 318h3v1h-3zM580 318h3v1h-3z"/>
<path d="M556 343h3v1h-3zM560 343h3v1h-3zM564 343h3v1h-3zM568 343h3v1h-3zM572 343h3v1h-3zM576 343h3v1h-3zM580 343h3v1h-3z"/>
</svg>
</body></html>
